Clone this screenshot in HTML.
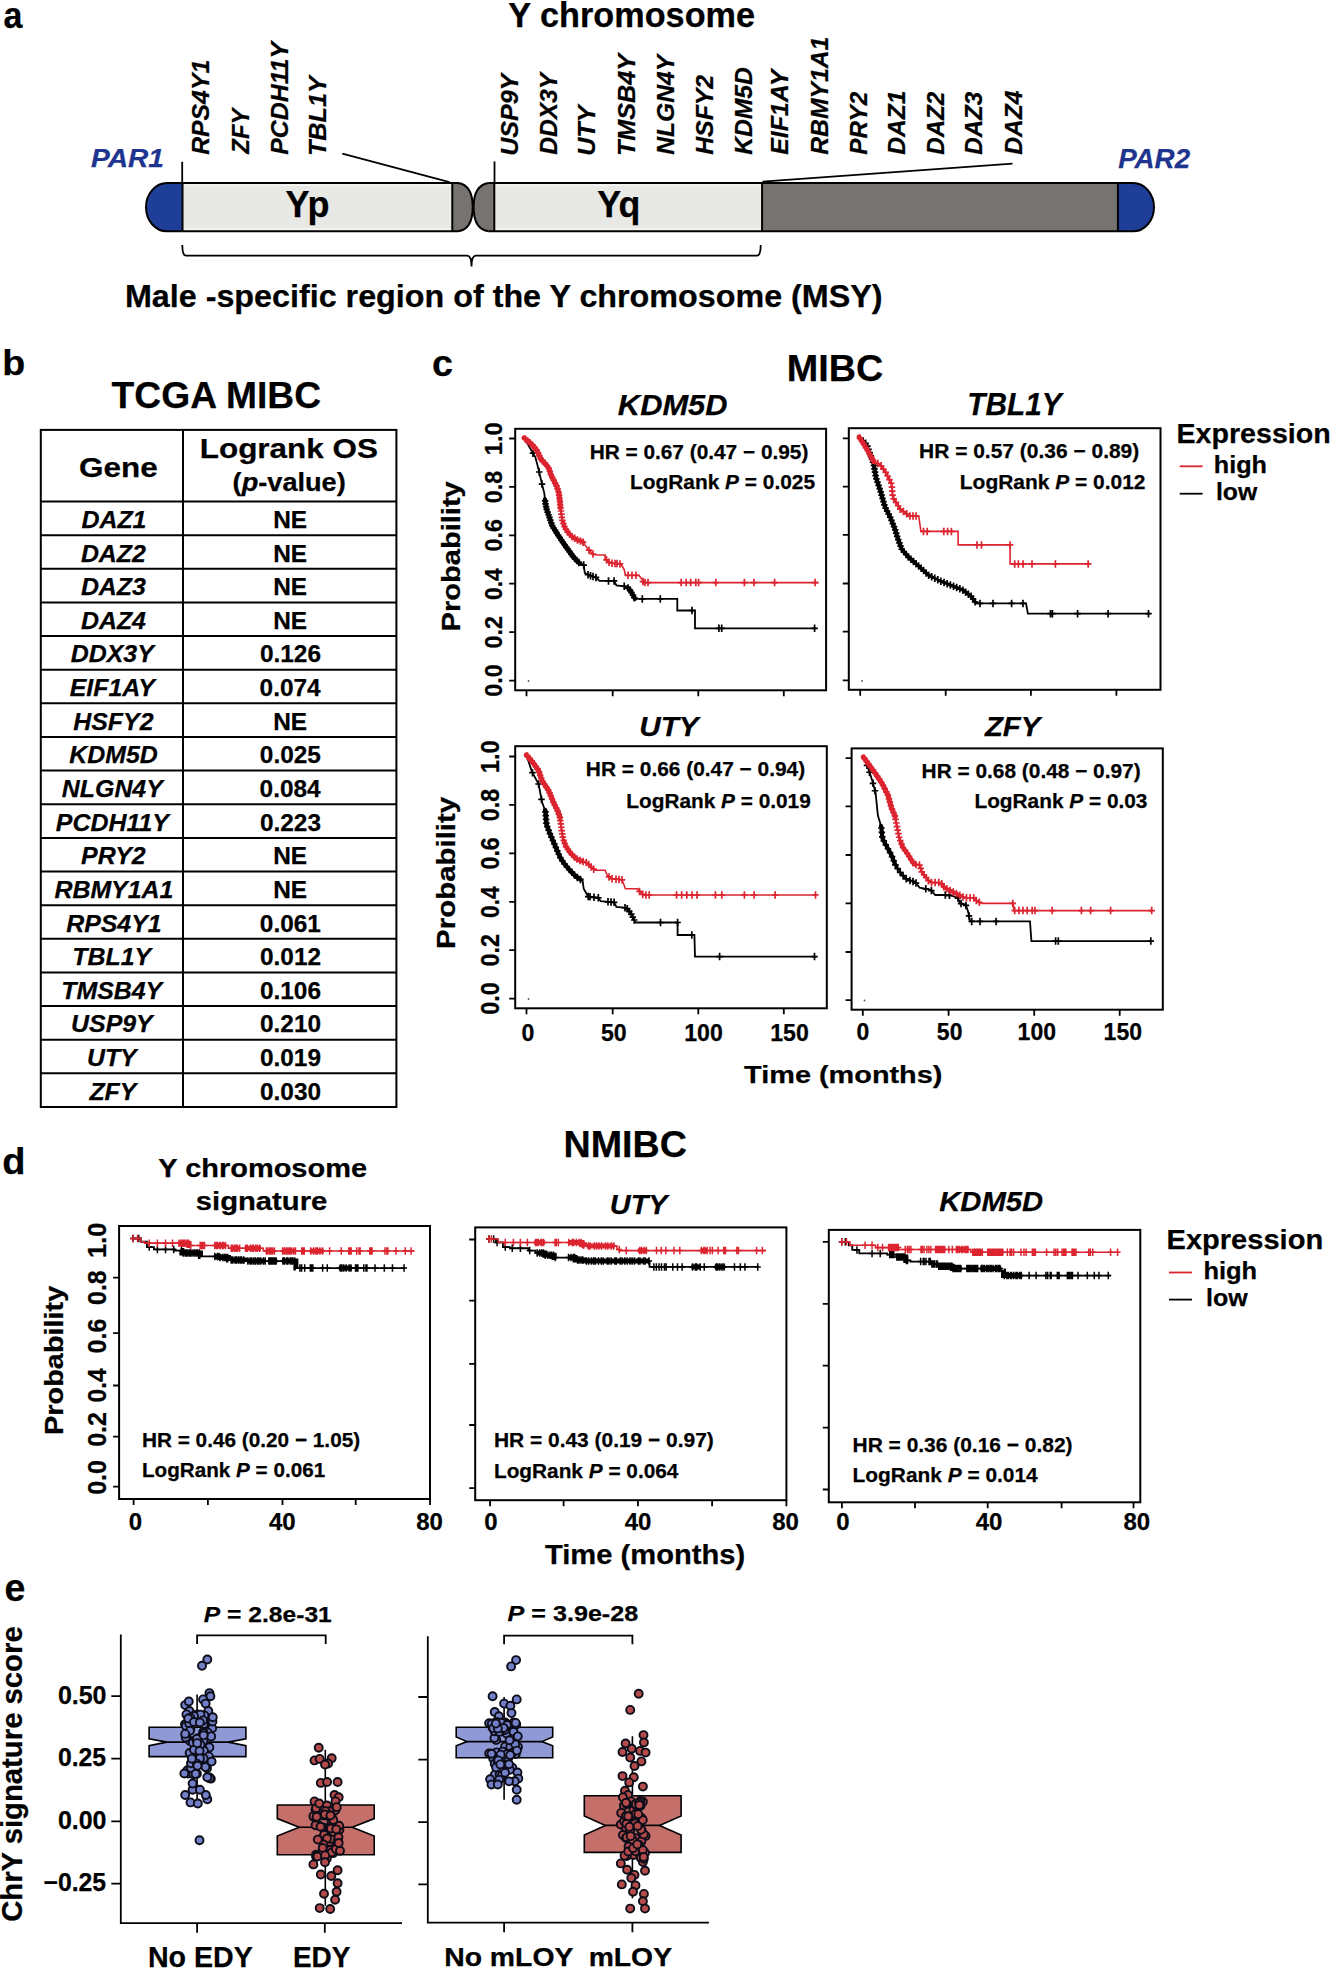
<!DOCTYPE html>
<html><head><meta charset="utf-8"><style>
html,body{margin:0;padding:0;background:#fff;}
body{width:1332px;height:1970px;overflow:hidden;}
svg{display:block;}
text{font-family:"Liberation Sans",sans-serif;}
</style></head><body>
<svg width="1332" height="1970" viewBox="0 0 1332 1970">
<rect x="0" y="0" width="1332" height="1970" fill="#fff"/>
<text x="3.48" y="28.00" font-size="36.85" font-weight="bold" fill="#000" stroke="#000" stroke-width="0.25" textLength="18.92" lengthAdjust="spacingAndGlyphs" xml:space="preserve"><tspan>a</tspan></text>
<text x="508.32" y="26.90" font-size="34.34" font-weight="bold" fill="#000" stroke="#000" stroke-width="0.25" textLength="246.72" lengthAdjust="spacingAndGlyphs" xml:space="preserve"><tspan>Y chromosome</tspan></text>
<text transform="translate(208.80 154.80) rotate(-90)" x="0" y="0" font-size="24.29" font-weight="bold" fill="#000" stroke="#000" stroke-width="0.25" textLength="94.97" lengthAdjust="spacingAndGlyphs" xml:space="preserve"><tspan font-style="italic">RPS4Y1</tspan></text>
<text transform="translate(249.00 153.70) rotate(-90)" x="0" y="0" font-size="24.64" font-weight="bold" fill="#000" stroke="#000" stroke-width="0.25" textLength="45.10" lengthAdjust="spacingAndGlyphs" xml:space="preserve"><tspan font-style="italic">ZFY</tspan></text>
<text transform="translate(287.50 154.80) rotate(-90)" x="0" y="0" font-size="24.29" font-weight="bold" fill="#000" stroke="#000" stroke-width="0.25" textLength="112.83" lengthAdjust="spacingAndGlyphs" xml:space="preserve"><tspan font-style="italic">PCDH11Y</tspan></text>
<text transform="translate(326.00 156.06) rotate(-90)" x="0" y="0" font-size="24.64" font-weight="bold" fill="#000" stroke="#000" stroke-width="0.25" textLength="79.83" lengthAdjust="spacingAndGlyphs" xml:space="preserve"><tspan font-style="italic">TBL1Y</tspan></text>
<text transform="translate(518.40 155.80) rotate(-90)" x="0" y="0" font-size="24.29" font-weight="bold" fill="#000" stroke="#000" stroke-width="0.25" textLength="82.04" lengthAdjust="spacingAndGlyphs" xml:space="preserve"><tspan font-style="italic">USP9Y</tspan></text>
<text transform="translate(557.30 154.79) rotate(-90)" x="0" y="0" font-size="24.29" font-weight="bold" fill="#000" stroke="#000" stroke-width="0.25" textLength="81.94" lengthAdjust="spacingAndGlyphs" xml:space="preserve"><tspan font-style="italic">DDX3Y</tspan></text>
<text transform="translate(595.10 155.81) rotate(-90)" x="0" y="0" font-size="24.64" font-weight="bold" fill="#000" stroke="#000" stroke-width="0.25" textLength="50.32" lengthAdjust="spacingAndGlyphs" xml:space="preserve"><tspan font-style="italic">UTY</tspan></text>
<text transform="translate(635.00 156.06) rotate(-90)" x="0" y="0" font-size="24.29" font-weight="bold" fill="#000" stroke="#000" stroke-width="0.25" textLength="102.21" lengthAdjust="spacingAndGlyphs" xml:space="preserve"><tspan font-style="italic">TMSB4Y</tspan></text>
<text transform="translate(674.00 154.79) rotate(-90)" x="0" y="0" font-size="24.29" font-weight="bold" fill="#000" stroke="#000" stroke-width="0.25" textLength="99.88" lengthAdjust="spacingAndGlyphs" xml:space="preserve"><tspan font-style="italic">NLGN4Y</tspan></text>
<text transform="translate(712.80 154.80) rotate(-90)" x="0" y="0" font-size="24.29" font-weight="bold" fill="#000" stroke="#000" stroke-width="0.25" textLength="79.93" lengthAdjust="spacingAndGlyphs" xml:space="preserve"><tspan font-style="italic">HSFY2</tspan></text>
<text transform="translate(751.70 154.79) rotate(-90)" x="0" y="0" font-size="24.64" font-weight="bold" fill="#000" stroke="#000" stroke-width="0.25" textLength="87.63" lengthAdjust="spacingAndGlyphs" xml:space="preserve"><tspan font-style="italic">KDM5D</tspan></text>
<text transform="translate(788.40 154.80) rotate(-90)" x="0" y="0" font-size="24.64" font-weight="bold" fill="#000" stroke="#000" stroke-width="0.25" textLength="85.18" lengthAdjust="spacingAndGlyphs" xml:space="preserve"><tspan font-style="italic">EIF1AY</tspan></text>
<text transform="translate(828.30 154.79) rotate(-90)" x="0" y="0" font-size="24.64" font-weight="bold" fill="#000" stroke="#000" stroke-width="0.25" textLength="118.13" lengthAdjust="spacingAndGlyphs" xml:space="preserve"><tspan font-style="italic">RBMY1A1</tspan></text>
<text transform="translate(867.20 154.79) rotate(-90)" x="0" y="0" font-size="24.29" font-weight="bold" fill="#000" stroke="#000" stroke-width="0.25" textLength="63.01" lengthAdjust="spacingAndGlyphs" xml:space="preserve"><tspan font-style="italic">PRY2</tspan></text>
<text transform="translate(905.00 154.79) rotate(-90)" x="0" y="0" font-size="24.64" font-weight="bold" fill="#000" stroke="#000" stroke-width="0.25" textLength="64.18" lengthAdjust="spacingAndGlyphs" xml:space="preserve"><tspan font-style="italic">DAZ1</tspan></text>
<text transform="translate(944.00 154.78) rotate(-90)" x="0" y="0" font-size="24.29" font-weight="bold" fill="#000" stroke="#000" stroke-width="0.25" textLength="63.06" lengthAdjust="spacingAndGlyphs" xml:space="preserve"><tspan font-style="italic">DAZ2</tspan></text>
<text transform="translate(981.80 154.78) rotate(-90)" x="0" y="0" font-size="24.29" font-weight="bold" fill="#000" stroke="#000" stroke-width="0.25" textLength="63.06" lengthAdjust="spacingAndGlyphs" xml:space="preserve"><tspan font-style="italic">DAZ3</tspan></text>
<text transform="translate(1021.70 154.79) rotate(-90)" x="0" y="0" font-size="24.64" font-weight="bold" fill="#000" stroke="#000" stroke-width="0.25" textLength="64.19" lengthAdjust="spacingAndGlyphs" xml:space="preserve"><tspan font-style="italic">DAZ4</tspan></text>
<text x="91.04" y="166.70" font-size="26.23" font-weight="bold" fill="#1E348E" stroke="#1E348E" stroke-width="0.25" textLength="72.80" lengthAdjust="spacingAndGlyphs" xml:space="preserve"><tspan font-style="italic">PAR1</tspan></text>
<text x="1118.15" y="167.70" font-size="27.71" font-weight="bold" fill="#1E348E" stroke="#1E348E" stroke-width="0.25" textLength="71.93" lengthAdjust="spacingAndGlyphs" xml:space="preserve"><tspan font-style="italic">PAR2</tspan></text>
<path d="M182.5,183.0 L167,183.0 A21,24.15 0 0 0 167,231.3 L182.5,231.3 Z" fill="#1F3E98" stroke="#000" stroke-width="0.00" />
<rect x="182.5" y="183.0" width="269.8" height="48.3" fill="#E8E8E5"/>
<path d="M452.3,183.0 L458,183.0 Q472.7,185.0 472.7,207.2 Q472.7,229.3 458,231.3 L452.3,231.3 Z" fill="#777371" stroke="#000" stroke-width="0.00" />
<path d="M494.3,183.0 L488.8,183.0 Q473.6,185.0 473.6,207.2 Q473.6,229.3 488.8,231.3 L494.3,231.3 Z" fill="#777371" stroke="#000" stroke-width="0.00" />
<rect x="494.3" y="183.0" width="267.8" height="48.3" fill="#E8E8E5"/>
<rect x="762.1" y="183.0" width="355.8" height="48.3" fill="#777371"/>
<path d="M1117.9,183.0 L1133,183.0 A21,24.15 0 0 1 1133,231.3 L1117.9,231.3 Z" fill="#1F3E98" stroke="#000" stroke-width="0.00" />
<line x1="183.50" y1="185.20" x2="451.50" y2="185.20" stroke="#F8F8F6" stroke-width="1.30" />
<line x1="183.50" y1="229.10" x2="451.50" y2="229.10" stroke="#F8F8F6" stroke-width="1.30" />
<line x1="495.20" y1="185.20" x2="761.20" y2="185.20" stroke="#F8F8F6" stroke-width="1.30" />
<line x1="495.20" y1="229.10" x2="761.20" y2="229.10" stroke="#F8F8F6" stroke-width="1.30" />
<path d="M182.5,183.0 L167,183.0 A21,24.15 0 0 0 167,231.3 L182.5,231.3" fill="none" stroke="#000" stroke-width="2.00" />
<line x1="182.50" y1="183.00" x2="458.00" y2="183.00" stroke="#000" stroke-width="2.00" />
<line x1="182.50" y1="231.30" x2="458.00" y2="231.30" stroke="#000" stroke-width="2.00" />
<path d="M458,183.0 Q472.7,185.0 472.7,207.2 Q472.7,229.3 458,231.3" fill="none" stroke="#000" stroke-width="2.00" />
<path d="M488.8,183.0 Q473.6,185.0 473.6,207.2 Q473.6,229.3 488.8,231.3" fill="none" stroke="#000" stroke-width="2.00" />
<line x1="488.80" y1="183.00" x2="1133.00" y2="183.00" stroke="#000" stroke-width="2.00" />
<line x1="488.80" y1="231.30" x2="1133.00" y2="231.30" stroke="#000" stroke-width="2.00" />
<path d="M1133,183.0 A21,24.15 0 0 1 1133,231.3" fill="none" stroke="#000" stroke-width="2.00" />
<line x1="182.50" y1="183.00" x2="182.50" y2="231.30" stroke="#000" stroke-width="2.00" />
<line x1="452.30" y1="183.00" x2="452.30" y2="231.30" stroke="#000" stroke-width="2.00" />
<line x1="494.30" y1="183.00" x2="494.30" y2="231.30" stroke="#000" stroke-width="2.00" />
<line x1="762.10" y1="183.00" x2="762.10" y2="231.30" stroke="#000" stroke-width="2.00" />
<line x1="1117.90" y1="183.00" x2="1117.90" y2="231.30" stroke="#000" stroke-width="2.00" />
<line x1="182.20" y1="161.80" x2="182.20" y2="183.00" stroke="#000" stroke-width="1.80" />
<line x1="342.30" y1="153.70" x2="449.50" y2="182.20" stroke="#000" stroke-width="1.80" />
<line x1="494.50" y1="161.40" x2="494.50" y2="183.00" stroke="#000" stroke-width="1.80" />
<line x1="1012.50" y1="163.60" x2="762.50" y2="181.60" stroke="#000" stroke-width="1.80" />
<path d="M182.3,245 Q182.3,255.7 186,255.7 L467,255.7 Q471.5,255.7 471.5,266.5 Q471.5,255.7 476,255.7 L757,255.7 Q760.7,255.7 760.7,245" fill="none" stroke="#000" stroke-width="1.80" />
<text x="124.90" y="306.60" font-size="31.03" font-weight="bold" fill="#000" stroke="#000" stroke-width="0.25" textLength="757.66" lengthAdjust="spacingAndGlyphs" xml:space="preserve"><tspan>Male -specific region of the Y chromosome (MSY)</tspan></text>
<text x="2.25" y="375.30" font-size="35.59" font-weight="bold" fill="#000" stroke="#000" stroke-width="0.25" textLength="22.98" lengthAdjust="spacingAndGlyphs" xml:space="preserve"><tspan>b</tspan></text>
<text x="111.63" y="407.80" font-size="36.00" font-weight="bold" fill="#000" stroke="#000" stroke-width="0.25" textLength="209.45" lengthAdjust="spacingAndGlyphs" xml:space="preserve"><tspan>TCGA MIBC</tspan></text>
<rect x="40.80" y="429.90" width="355.60" height="677.10" fill="none" stroke="#000" stroke-width="2"/>
<line x1="183.00" y1="429.90" x2="183.00" y2="1107.00" stroke="#000" stroke-width="2.00" />
<line x1="40.80" y1="501.50" x2="396.40" y2="501.50" stroke="#000" stroke-width="2.00" />
<line x1="40.80" y1="535.14" x2="396.40" y2="535.14" stroke="#000" stroke-width="2.00" />
<line x1="40.80" y1="568.78" x2="396.40" y2="568.78" stroke="#000" stroke-width="2.00" />
<line x1="40.80" y1="602.42" x2="396.40" y2="602.42" stroke="#000" stroke-width="2.00" />
<line x1="40.80" y1="636.06" x2="396.40" y2="636.06" stroke="#000" stroke-width="2.00" />
<line x1="40.80" y1="669.69" x2="396.40" y2="669.69" stroke="#000" stroke-width="2.00" />
<line x1="40.80" y1="703.33" x2="396.40" y2="703.33" stroke="#000" stroke-width="2.00" />
<line x1="40.80" y1="736.97" x2="396.40" y2="736.97" stroke="#000" stroke-width="2.00" />
<line x1="40.80" y1="770.61" x2="396.40" y2="770.61" stroke="#000" stroke-width="2.00" />
<line x1="40.80" y1="804.25" x2="396.40" y2="804.25" stroke="#000" stroke-width="2.00" />
<line x1="40.80" y1="837.89" x2="396.40" y2="837.89" stroke="#000" stroke-width="2.00" />
<line x1="40.80" y1="871.53" x2="396.40" y2="871.53" stroke="#000" stroke-width="2.00" />
<line x1="40.80" y1="905.17" x2="396.40" y2="905.17" stroke="#000" stroke-width="2.00" />
<line x1="40.80" y1="938.81" x2="396.40" y2="938.81" stroke="#000" stroke-width="2.00" />
<line x1="40.80" y1="972.44" x2="396.40" y2="972.44" stroke="#000" stroke-width="2.00" />
<line x1="40.80" y1="1006.08" x2="396.40" y2="1006.08" stroke="#000" stroke-width="2.00" />
<line x1="40.80" y1="1039.72" x2="396.40" y2="1039.72" stroke="#000" stroke-width="2.00" />
<line x1="40.80" y1="1073.36" x2="396.40" y2="1073.36" stroke="#000" stroke-width="2.00" />
<text x="79.14" y="476.50" font-size="28.29" font-weight="bold" fill="#000" stroke="#000" stroke-width="0.25" textLength="78.69" lengthAdjust="spacingAndGlyphs" xml:space="preserve"><tspan>Gene</tspan></text>
<text x="199.76" y="458.30" font-size="28.28" font-weight="bold" fill="#000" stroke="#000" stroke-width="0.25" textLength="178.23" lengthAdjust="spacingAndGlyphs" xml:space="preserve"><tspan>Logrank OS</tspan></text>
<text x="232.64" y="490.70" font-size="25.79" font-weight="bold" fill="#000" stroke="#000" stroke-width="0.25" textLength="113.14" lengthAdjust="spacingAndGlyphs" xml:space="preserve"><tspan>(</tspan><tspan font-style="italic">p</tspan><tspan>-value)</tspan></text>
<text x="81.46" y="527.90" font-size="24.40" font-weight="bold" fill="#000" stroke="#000" stroke-width="0.25" textLength="64.99" lengthAdjust="spacingAndGlyphs" xml:space="preserve"><tspan font-style="italic">DAZ1</tspan></text>
<text x="273.24" y="527.90" font-size="24.40" font-weight="bold" fill="#000" stroke="#000" stroke-width="0.25" textLength="33.90" lengthAdjust="spacingAndGlyphs" xml:space="preserve"><tspan>NE</tspan></text>
<text x="80.90" y="561.54" font-size="24.40" font-weight="bold" fill="#000" stroke="#000" stroke-width="0.25" textLength="64.99" lengthAdjust="spacingAndGlyphs" xml:space="preserve"><tspan font-style="italic">DAZ2</tspan></text>
<text x="273.24" y="561.54" font-size="24.40" font-weight="bold" fill="#000" stroke="#000" stroke-width="0.25" textLength="33.90" lengthAdjust="spacingAndGlyphs" xml:space="preserve"><tspan>NE</tspan></text>
<text x="80.90" y="595.18" font-size="24.40" font-weight="bold" fill="#000" stroke="#000" stroke-width="0.25" textLength="64.99" lengthAdjust="spacingAndGlyphs" xml:space="preserve"><tspan font-style="italic">DAZ3</tspan></text>
<text x="273.24" y="595.18" font-size="24.40" font-weight="bold" fill="#000" stroke="#000" stroke-width="0.25" textLength="33.90" lengthAdjust="spacingAndGlyphs" xml:space="preserve"><tspan>NE</tspan></text>
<text x="80.96" y="628.82" font-size="24.40" font-weight="bold" fill="#000" stroke="#000" stroke-width="0.25" textLength="64.99" lengthAdjust="spacingAndGlyphs" xml:space="preserve"><tspan font-style="italic">DAZ4</tspan></text>
<text x="273.24" y="628.82" font-size="24.40" font-weight="bold" fill="#000" stroke="#000" stroke-width="0.25" textLength="33.90" lengthAdjust="spacingAndGlyphs" xml:space="preserve"><tspan>NE</tspan></text>
<text x="70.82" y="662.46" font-size="24.40" font-weight="bold" fill="#000" stroke="#000" stroke-width="0.25" textLength="82.99" lengthAdjust="spacingAndGlyphs" xml:space="preserve"><tspan font-style="italic">DDX3Y</tspan></text>
<text x="259.94" y="662.46" font-size="24.40" font-weight="bold" fill="#000" stroke="#000" stroke-width="0.25" textLength="61.06" lengthAdjust="spacingAndGlyphs" xml:space="preserve"><tspan>0.126</tspan></text>
<text x="69.70" y="696.09" font-size="24.40" font-weight="bold" fill="#000" stroke="#000" stroke-width="0.25" textLength="85.29" lengthAdjust="spacingAndGlyphs" xml:space="preserve"><tspan font-style="italic">EIF1AY</tspan></text>
<text x="259.57" y="696.09" font-size="24.40" font-weight="bold" fill="#000" stroke="#000" stroke-width="0.25" textLength="61.06" lengthAdjust="spacingAndGlyphs" xml:space="preserve"><tspan>0.074</tspan></text>
<text x="73.31" y="729.73" font-size="24.40" font-weight="bold" fill="#000" stroke="#000" stroke-width="0.25" textLength="80.22" lengthAdjust="spacingAndGlyphs" xml:space="preserve"><tspan font-style="italic">HSFY2</tspan></text>
<text x="273.24" y="729.73" font-size="24.40" font-weight="bold" fill="#000" stroke="#000" stroke-width="0.25" textLength="33.90" lengthAdjust="spacingAndGlyphs" xml:space="preserve"><tspan>NE</tspan></text>
<text x="69.32" y="763.37" font-size="24.40" font-weight="bold" fill="#000" stroke="#000" stroke-width="0.25" textLength="88.50" lengthAdjust="spacingAndGlyphs" xml:space="preserve"><tspan font-style="italic">KDM5D</tspan></text>
<text x="259.82" y="763.37" font-size="24.40" font-weight="bold" fill="#000" stroke="#000" stroke-width="0.25" textLength="61.06" lengthAdjust="spacingAndGlyphs" xml:space="preserve"><tspan>0.025</tspan></text>
<text x="61.86" y="797.01" font-size="24.40" font-weight="bold" fill="#000" stroke="#000" stroke-width="0.25" textLength="100.95" lengthAdjust="spacingAndGlyphs" xml:space="preserve"><tspan font-style="italic">NLGN4Y</tspan></text>
<text x="259.57" y="797.01" font-size="24.40" font-weight="bold" fill="#000" stroke="#000" stroke-width="0.25" textLength="61.06" lengthAdjust="spacingAndGlyphs" xml:space="preserve"><tspan>0.084</tspan></text>
<text x="55.88" y="830.65" font-size="24.40" font-weight="bold" fill="#000" stroke="#000" stroke-width="0.25" textLength="112.96" lengthAdjust="spacingAndGlyphs" xml:space="preserve"><tspan font-style="italic">PCDH11Y</tspan></text>
<text x="259.94" y="830.65" font-size="24.40" font-weight="bold" fill="#000" stroke="#000" stroke-width="0.25" textLength="61.06" lengthAdjust="spacingAndGlyphs" xml:space="preserve"><tspan>0.223</tspan></text>
<text x="81.08" y="864.29" font-size="24.40" font-weight="bold" fill="#000" stroke="#000" stroke-width="0.25" textLength="64.57" lengthAdjust="spacingAndGlyphs" xml:space="preserve"><tspan font-style="italic">PRY2</tspan></text>
<text x="273.24" y="864.29" font-size="24.40" font-weight="bold" fill="#000" stroke="#000" stroke-width="0.25" textLength="33.90" lengthAdjust="spacingAndGlyphs" xml:space="preserve"><tspan>NE</tspan></text>
<text x="54.45" y="897.93" font-size="24.40" font-weight="bold" fill="#000" stroke="#000" stroke-width="0.25" textLength="118.94" lengthAdjust="spacingAndGlyphs" xml:space="preserve"><tspan font-style="italic">RBMY1A1</tspan></text>
<text x="273.24" y="897.93" font-size="24.40" font-weight="bold" fill="#000" stroke="#000" stroke-width="0.25" textLength="33.90" lengthAdjust="spacingAndGlyphs" xml:space="preserve"><tspan>NE</tspan></text>
<text x="66.21" y="931.57" font-size="24.40" font-weight="bold" fill="#000" stroke="#000" stroke-width="0.25" textLength="95.46" lengthAdjust="spacingAndGlyphs" xml:space="preserve"><tspan font-style="italic">RPS4Y1</tspan></text>
<text x="259.82" y="931.57" font-size="24.40" font-weight="bold" fill="#000" stroke="#000" stroke-width="0.25" textLength="61.06" lengthAdjust="spacingAndGlyphs" xml:space="preserve"><tspan>0.061</tspan></text>
<text x="72.31" y="965.21" font-size="24.40" font-weight="bold" fill="#000" stroke="#000" stroke-width="0.25" textLength="78.82" lengthAdjust="spacingAndGlyphs" xml:space="preserve"><tspan font-style="italic">TBL1Y</tspan></text>
<text x="260.00" y="965.21" font-size="24.40" font-weight="bold" fill="#000" stroke="#000" stroke-width="0.25" textLength="61.06" lengthAdjust="spacingAndGlyphs" xml:space="preserve"><tspan>0.012</tspan></text>
<text x="61.24" y="998.84" font-size="24.40" font-weight="bold" fill="#000" stroke="#000" stroke-width="0.25" textLength="100.95" lengthAdjust="spacingAndGlyphs" xml:space="preserve"><tspan font-style="italic">TMSB4Y</tspan></text>
<text x="259.94" y="998.84" font-size="24.40" font-weight="bold" fill="#000" stroke="#000" stroke-width="0.25" textLength="61.06" lengthAdjust="spacingAndGlyphs" xml:space="preserve"><tspan>0.106</tspan></text>
<text x="71.07" y="1032.48" font-size="24.40" font-weight="bold" fill="#000" stroke="#000" stroke-width="0.25" textLength="81.62" lengthAdjust="spacingAndGlyphs" xml:space="preserve"><tspan font-style="italic">USP9Y</tspan></text>
<text x="260.00" y="1032.48" font-size="24.40" font-weight="bold" fill="#000" stroke="#000" stroke-width="0.25" textLength="61.06" lengthAdjust="spacingAndGlyphs" xml:space="preserve"><tspan>0.210</tspan></text>
<text x="86.93" y="1066.12" font-size="24.40" font-weight="bold" fill="#000" stroke="#000" stroke-width="0.25" textLength="49.78" lengthAdjust="spacingAndGlyphs" xml:space="preserve"><tspan font-style="italic">UTY</tspan></text>
<text x="259.94" y="1066.12" font-size="24.40" font-weight="bold" fill="#000" stroke="#000" stroke-width="0.25" textLength="61.06" lengthAdjust="spacingAndGlyphs" xml:space="preserve"><tspan>0.019</tspan></text>
<text x="89.42" y="1099.76" font-size="24.40" font-weight="bold" fill="#000" stroke="#000" stroke-width="0.25" textLength="47.01" lengthAdjust="spacingAndGlyphs" xml:space="preserve"><tspan font-style="italic">ZFY</tspan></text>
<text x="260.00" y="1099.76" font-size="24.40" font-weight="bold" fill="#000" stroke="#000" stroke-width="0.25" textLength="61.06" lengthAdjust="spacingAndGlyphs" xml:space="preserve"><tspan>0.030</tspan></text>
<text x="431.99" y="375.50" font-size="37.04" font-weight="bold" fill="#000" stroke="#000" stroke-width="0.25" textLength="20.99" lengthAdjust="spacingAndGlyphs" xml:space="preserve"><tspan>c</tspan></text>
<text x="786.74" y="380.80" font-size="36.86" font-weight="bold" fill="#000" stroke="#000" stroke-width="0.25" textLength="96.61" lengthAdjust="spacingAndGlyphs" xml:space="preserve"><tspan>MIBC</tspan></text>
<text x="617.88" y="414.90" font-size="28.99" font-weight="bold" fill="#000" stroke="#000" stroke-width="0.25" textLength="109.61" lengthAdjust="spacingAndGlyphs" xml:space="preserve"><tspan font-style="italic">KDM5D</tspan></text>
<text x="967.32" y="414.70" font-size="31.16" font-weight="bold" fill="#000" stroke="#000" stroke-width="0.25" textLength="94.21" lengthAdjust="spacingAndGlyphs" xml:space="preserve"><tspan font-style="italic">TBL1Y</tspan></text>
<text x="639.32" y="735.50" font-size="28.12" font-weight="bold" fill="#000" stroke="#000" stroke-width="0.25" textLength="59.36" lengthAdjust="spacingAndGlyphs" xml:space="preserve"><tspan font-style="italic">UTY</tspan></text>
<text x="984.93" y="736.10" font-size="28.26" font-weight="bold" fill="#000" stroke="#000" stroke-width="0.25" textLength="55.47" lengthAdjust="spacingAndGlyphs" xml:space="preserve"><tspan font-style="italic">ZFY</tspan></text>
<rect x="515.20" y="428.80" width="310.90" height="261.50" fill="none" stroke="#000" stroke-width="2.00"/>
<path d="M515.20,438.50H509.20 M515.20,486.90H509.20 M515.20,535.30H509.20 M515.20,583.70H509.20 M515.20,632.20H509.20 M515.20,680.60H509.20 M526.50,690.30V696.30 M612.70,690.30V696.30 M698.30,690.30V696.30 M783.80,690.30V696.30" stroke="#000" stroke-width="1.80" fill="none"/>
<text transform="translate(501.80 455.22) rotate(-90)" x="0" y="0" font-size="24.43" font-weight="bold" fill="#000" stroke="#000" stroke-width="0.25" textLength="32.98" lengthAdjust="spacingAndGlyphs" xml:space="preserve"><tspan>1.0</tspan></text>
<text transform="translate(501.80 503.13) rotate(-90)" x="0" y="0" font-size="24.43" font-weight="bold" fill="#000" stroke="#000" stroke-width="0.25" textLength="32.23" lengthAdjust="spacingAndGlyphs" xml:space="preserve"><tspan>0.8</tspan></text>
<text transform="translate(501.80 551.53) rotate(-90)" x="0" y="0" font-size="24.43" font-weight="bold" fill="#000" stroke="#000" stroke-width="0.25" textLength="32.35" lengthAdjust="spacingAndGlyphs" xml:space="preserve"><tspan>0.6</tspan></text>
<text transform="translate(501.80 599.91) rotate(-90)" x="0" y="0" font-size="24.43" font-weight="bold" fill="#000" stroke="#000" stroke-width="0.25" textLength="31.63" lengthAdjust="spacingAndGlyphs" xml:space="preserve"><tspan>0.4</tspan></text>
<text transform="translate(501.80 648.43) rotate(-90)" x="0" y="0" font-size="24.43" font-weight="bold" fill="#000" stroke="#000" stroke-width="0.25" textLength="32.47" lengthAdjust="spacingAndGlyphs" xml:space="preserve"><tspan>0.2</tspan></text>
<text transform="translate(501.80 696.83) rotate(-90)" x="0" y="0" font-size="24.43" font-weight="bold" fill="#000" stroke="#000" stroke-width="0.25" textLength="32.47" lengthAdjust="spacingAndGlyphs" xml:space="preserve"><tspan>0.0</tspan></text>
<text transform="translate(459.93 631.39) rotate(-90)" x="0" y="0" font-size="26.52" font-weight="bold" fill="#000" stroke="#000" stroke-width="0.25" textLength="150.11" lengthAdjust="spacingAndGlyphs" xml:space="preserve"><tspan>Probability</tspan></text>
<text x="589.65" y="458.80" font-size="20.41" font-weight="bold" fill="#000" stroke="#000" stroke-width="0.25" textLength="218.72" lengthAdjust="spacingAndGlyphs" xml:space="preserve"><tspan>HR = 0.67 (0.47 − 0.95)</tspan></text>
<text x="630.04" y="489.10" font-size="20.41" font-weight="bold" fill="#000" stroke="#000" stroke-width="0.25" textLength="184.98" lengthAdjust="spacingAndGlyphs" xml:space="preserve"><tspan>LogRank </tspan><tspan font-style="italic">P</tspan><tspan> = 0.025</tspan></text>
<polyline points="524.00,437.90 531.90,451.40 535.30,457.00 538.60,469.40 542.00,484.10 544.30,493.10 545.40,503.20 546.50,508.80 548.80,515.60 552.20,525.70 557.80,534.70 562.30,541.50 567.90,549.40 573.60,557.30 579.20,562.90 583.70,565.10 584.80,573.00 589.30,575.30 596.10,577.50 599.50,580.90 614.10,580.90 616.40,585.40 626.50,586.50 629.90,589.90 633.20,595.50 634.90,598.90 677.30,598.90 677.30,610.50 695.00,610.50 695.00,628.30 815.50,628.30" fill="none" stroke="#000" stroke-width="1.80" stroke-linejoin="miter" />
<polyline points="545.00,499.53 545.40,503.20 546.50,508.80 548.80,515.60 552.20,525.70 557.80,534.70 562.30,541.50 567.90,549.40 573.60,557.30 579.20,562.90 580.00,563.29" fill="none" stroke="#000" stroke-width="4.50" stroke-linejoin="miter" stroke-linecap="round" stroke-linejoin="round"/>
<polyline points="627.50,587.50 629.90,589.90 633.20,595.50 634.90,598.90 635.00,598.90" fill="none" stroke="#000" stroke-width="4.00" stroke-linejoin="miter" stroke-linecap="round" stroke-linejoin="round"/>
<path d="M533.00,449.46v7.50 M529.75,453.21h6.50 M539.20,468.24v7.50 M535.95,471.99h6.50 M542.00,480.35v7.50 M538.75,484.10h6.50 M583.70,561.35v7.50 M580.45,565.10h6.50 M588.00,570.89v7.50 M584.75,574.64h6.50 M590.50,571.94v7.50 M587.25,575.69h6.50 M593.00,572.75v7.50 M589.75,576.50h6.50 M596.00,573.72v7.50 M592.75,577.47h6.50 M608.50,577.15v7.50 M605.25,580.90h6.50 M614.10,577.15v7.50 M610.85,580.90h6.50 M624.20,582.50v7.50 M620.95,586.25h6.50 M642.30,595.15v7.50 M639.05,598.90h6.50 M660.30,595.15v7.50 M657.05,598.90h6.50 M692.00,606.75v7.50 M688.75,610.50h6.50 M718.90,624.55v7.50 M715.65,628.30h6.50 M721.70,624.55v7.50 M718.45,628.30h6.50 M814.60,624.55v7.50 M811.35,628.30h6.50 M545.15,497.20v7.50 M541.90,500.95h6.50 M545.51,500.03v7.50 M542.26,503.78h6.50 M546.06,502.83v7.50 M542.81,506.58h6.50 M546.69,505.61v7.50 M543.44,509.36h6.50 M547.60,508.31v7.50 M544.35,512.06h6.50 M548.52,511.02v7.50 M545.27,514.77h6.50 M549.43,513.72v7.50 M546.18,517.47h6.50 M550.34,516.43v7.50 M547.09,520.18h6.50 M551.25,519.13v7.50 M548.00,522.88h6.50 M552.16,521.84v7.50 M548.91,525.59h6.50 M553.65,524.28v7.50 M550.40,528.03h6.50 M555.16,526.70v7.50 M551.91,530.45h6.50 M556.66,529.12v7.50 M553.41,532.87h6.50 M558.19,531.54v7.50 M554.94,535.29h6.50 M559.76,533.92v7.50 M556.51,537.67h6.50 M561.34,536.30v7.50 M558.09,540.05h6.50 M562.94,538.66v7.50 M559.69,542.41h6.50 M564.60,540.99v7.50 M561.35,544.74h6.50 M566.25,543.32v7.50 M563.00,547.07h6.50 M567.90,545.65v7.50 M564.65,549.40h6.50 M569.57,547.96v7.50 M566.32,551.71h6.50 M571.24,550.28v7.50 M567.99,554.03h6.50 M572.91,552.59v7.50 M569.66,556.34h6.50 M574.78,554.73v7.50 M571.53,558.48h6.50 M576.80,556.75v7.50 M573.55,560.50h6.50 M578.82,558.77v7.50 M575.57,562.52h6.50 M628.03,584.28v7.50 M624.78,588.03h6.50 M630.03,586.36v7.50 M626.78,590.11h6.50 M631.50,588.86v7.50 M628.25,592.61h6.50 M632.97,591.36v7.50 M629.72,595.11h6.50 M634.30,593.94v7.50 M631.05,597.69h6.50" stroke="#000" stroke-width="1.70" fill="none"/>
<polyline points="524.00,437.90 529.60,442.40 534.10,446.90 537.50,451.40 540.90,459.30 545.40,463.80 548.80,468.30 551.00,475.00 553.90,480.70 556.70,486.30 558.90,493.10 560.00,502.10 560.60,508.80 562.30,520.10 564.50,526.80 567.90,532.50 572.40,537.00 578.10,540.40 582.60,541.50 584.80,544.90 588.20,549.40 592.70,553.90 596.10,555.00 605.10,555.00 605.10,558.40 609.60,562.90 620.90,564.00 624.20,569.60 625.40,575.30 638.90,575.30 642.30,579.80 643.40,582.60 818.50,582.60" fill="none" stroke="#DC2430" stroke-width="1.60" stroke-linejoin="miter" />
<polyline points="524.00,437.90 529.60,442.40 534.10,446.90 537.50,451.40 540.90,459.30 545.00,463.40" fill="none" stroke="#DC2430" stroke-width="5.00" stroke-linejoin="miter" stroke-linecap="round" stroke-linejoin="round"/>
<polyline points="546.00,464.59 548.80,468.30 551.00,475.00 553.90,480.70 556.70,486.30 558.90,493.10 560.00,502.10 560.50,507.68" fill="none" stroke="#DC2430" stroke-width="5.00" stroke-linejoin="miter" stroke-linecap="round" stroke-linejoin="round"/>
<polyline points="563.00,522.23 564.50,526.80 567.90,532.50 572.40,537.00 578.10,540.40 582.60,541.50 583.00,542.12" fill="none" stroke="#DC2430" stroke-width="4.20" stroke-linejoin="miter" stroke-linecap="round" stroke-linejoin="round"/>
<path d="M589.00,546.45v7.50 M585.75,550.20h6.50 M593.00,550.25v7.50 M589.75,554.00h6.50 M606.50,556.05v7.50 M603.25,559.80h6.50 M609.00,558.55v7.50 M605.75,562.30h6.50 M612.00,559.38v7.50 M608.75,563.13h6.50 M615.00,559.68v7.50 M611.75,563.43h6.50 M617.00,559.87v7.50 M613.75,563.62h6.50 M620.00,560.16v7.50 M616.75,563.91h6.50 M628.00,571.55v7.50 M624.75,575.30h6.50 M632.00,571.55v7.50 M628.75,575.30h6.50 M636.00,571.55v7.50 M632.75,575.30h6.50 M643.00,577.83v7.50 M639.75,581.58h6.50 M645.00,578.85v7.50 M641.75,582.60h6.50 M648.00,578.85v7.50 M644.75,582.60h6.50 M681.10,578.85v7.50 M677.85,582.60h6.50 M686.20,578.85v7.50 M682.95,582.60h6.50 M690.70,578.85v7.50 M687.45,582.60h6.50 M695.80,578.85v7.50 M692.55,582.60h6.50 M698.60,578.85v7.50 M695.35,582.60h6.50 M715.80,578.85v7.50 M712.55,582.60h6.50 M744.40,578.85v7.50 M741.15,582.60h6.50 M754.00,578.85v7.50 M750.75,582.60h6.50 M774.60,578.85v7.50 M771.35,582.60h6.50 M815.10,578.85v7.50 M811.85,582.60h6.50 M525.24,435.15v7.50 M521.99,438.90h6.50 M527.73,437.15v7.50 M524.48,440.90h6.50 M530.17,439.22v7.50 M526.92,442.97h6.50 M532.43,441.48v7.50 M529.18,445.23h6.50 M534.60,443.81v7.50 M531.35,447.56h6.50 M536.52,446.36v7.50 M533.27,450.11h6.50 M538.12,449.10v7.50 M534.87,452.85h6.50 M539.39,452.03v7.50 M536.14,455.78h6.50 M540.65,454.96v7.50 M537.40,458.71h6.50 M542.71,457.36v7.50 M539.46,461.11h6.50 M544.97,459.62v7.50 M541.72,463.37h6.50 M546.96,462.11v7.50 M543.71,465.86h6.50 M548.84,464.68v7.50 M545.59,468.43h6.50 M549.84,467.71v7.50 M546.59,471.46h6.50 M550.84,470.75v7.50 M547.59,474.50h6.50 M552.21,473.63v7.50 M548.96,477.38h6.50 M553.66,476.47v7.50 M550.41,480.22h6.50 M555.09,479.33v7.50 M551.84,483.08h6.50 M556.52,482.19v7.50 M553.27,485.94h6.50 M557.56,485.20v7.50 M554.31,488.95h6.50 M558.54,488.24v7.50 M555.29,491.99h6.50 M559.15,491.36v7.50 M555.90,495.11h6.50 M559.53,494.53v7.50 M556.28,498.28h6.50 M559.92,497.70v7.50 M556.67,501.45h6.50 M560.23,500.88v7.50 M556.98,504.63h6.50 M560.51,504.06v7.50 M557.26,507.81h6.50 M560.93,507.23v7.50 M557.68,510.98h6.50 M561.40,510.39v7.50 M558.15,514.14h6.50 M561.88,513.55v7.50 M558.63,517.30h6.50 M562.41,516.69v7.50 M559.16,520.44h6.50 M563.41,519.73v7.50 M560.16,523.48h6.50 M564.41,522.76v7.50 M561.16,526.51h6.50 M565.98,525.53v7.50 M562.73,529.28h6.50 M567.62,528.28v7.50 M564.37,532.03h6.50 M569.77,530.62v7.50 M566.52,534.37h6.50 M572.03,532.88v7.50 M568.78,536.63h6.50 M574.69,534.62v7.50 M571.44,538.37h6.50 M577.43,536.25v7.50 M574.18,540.00h6.50 M580.45,537.22v7.50 M577.20,540.97h6.50 M583.13,538.57v7.50 M579.88,542.32h6.50" stroke="#DC2430" stroke-width="1.70" fill="none"/>
<rect x="848.80" y="428.20" width="311.70" height="261.60" fill="none" stroke="#000" stroke-width="2.00"/>
<path d="M848.80,438.40H842.80 M848.80,486.70H842.80 M848.80,534.90H842.80 M848.80,583.50H842.80 M848.80,631.70H842.80 M848.80,680.40H842.80 M860.20,689.80V695.80 M945.70,689.80V695.80 M1030.90,689.80V695.80 M1116.40,689.80V695.80" stroke="#000" stroke-width="1.80" fill="none"/>
<text x="919.04" y="458.40" font-size="20.41" font-weight="bold" fill="#000" stroke="#000" stroke-width="0.25" textLength="220.24" lengthAdjust="spacingAndGlyphs" xml:space="preserve"><tspan>HR = 0.57 (0.36 − 0.89)</tspan></text>
<text x="959.84" y="489.30" font-size="20.41" font-weight="bold" fill="#000" stroke="#000" stroke-width="0.25" textLength="185.70" lengthAdjust="spacingAndGlyphs" xml:space="preserve"><tspan>LogRank </tspan><tspan font-style="italic">P</tspan><tspan> = 0.012</tspan></text>
<polyline points="859.00,436.80 866.90,444.60 873.60,463.80 875.90,477.30 880.40,490.80 884.90,506.60 890.50,517.80 895.00,529.10 897.30,537.00 901.80,549.40 908.60,557.30 917.60,565.10 928.80,575.30 940.10,580.90 951.40,585.40 962.60,589.90 971.60,596.70 976.10,603.40 1026.00,603.40 1027.90,613.70 1149.60,613.70" fill="none" stroke="#000" stroke-width="1.80" stroke-linejoin="miter" />
<polyline points="870.00,453.48 873.60,463.80 875.90,477.30 880.40,490.80 884.90,506.60 890.50,517.80 895.00,529.10 897.30,537.00 901.00,547.20" fill="none" stroke="#000" stroke-width="4.20" stroke-linejoin="miter" stroke-linecap="round" stroke-linejoin="round"/>
<polyline points="902.00,549.63 908.60,557.30 915.00,562.85" fill="none" stroke="#000" stroke-width="4.00" stroke-linejoin="miter" stroke-linecap="round" stroke-linejoin="round"/>
<polyline points="918.00,565.46 928.80,575.30 932.00,576.89" fill="none" stroke="#000" stroke-width="3.20" stroke-linejoin="miter" stroke-linecap="round" stroke-linejoin="round"/>
<polyline points="940.00,580.85 940.10,580.90 951.40,585.40 962.60,589.90 971.60,596.70 975.00,601.76" fill="none" stroke="#000" stroke-width="3.20" stroke-linejoin="miter" stroke-linecap="round" stroke-linejoin="round"/>
<path d="M980.00,599.65v7.50 M976.75,603.40h6.50 M993.00,599.65v7.50 M989.75,603.40h6.50 M1011.60,599.65v7.50 M1008.35,603.40h6.50 M1023.00,599.65v7.50 M1019.75,603.40h6.50 M1050.50,609.95v7.50 M1047.25,613.70h6.50 M1052.40,609.95v7.50 M1049.15,613.70h6.50 M1077.60,609.95v7.50 M1074.35,613.70h6.50 M1108.10,609.95v7.50 M1104.85,613.70h6.50 M1148.50,609.95v7.50 M1145.25,613.70h6.50 M863.21,437.21v7.50 M859.96,440.96h6.50 M865.64,439.60v7.50 M862.39,443.35h6.50 M867.44,442.39v7.50 M864.19,446.14h6.50 M868.56,445.60v7.50 M865.31,449.35h6.50 M869.68,448.82v7.50 M866.43,452.57h6.50 M870.80,452.04v7.50 M867.55,455.79h6.50 M871.93,455.25v7.50 M868.68,459.00h6.50 M873.05,458.47v7.50 M869.80,462.22h6.50 M873.89,461.76v7.50 M870.64,465.51h6.50 M874.46,465.11v7.50 M871.21,468.86h6.50 M875.03,468.47v7.50 M871.78,472.22h6.50 M875.61,471.83v7.50 M872.36,475.58h6.50 M876.42,475.12v7.50 M873.17,478.87h6.50 M877.50,478.36v7.50 M874.25,482.11h6.50 M878.58,481.59v7.50 M875.33,485.34h6.50 M879.66,484.82v7.50 M876.41,488.57h6.50 M880.69,488.06v7.50 M877.44,491.81h6.50 M881.62,491.34v7.50 M878.37,495.09h6.50 M882.55,494.62v7.50 M879.30,498.37h6.50 M883.49,497.89v7.50 M880.24,501.64h6.50 M884.42,501.17v7.50 M881.17,504.92h6.50 M885.64,504.33v7.50 M882.39,508.08h6.50 M887.16,507.38v7.50 M883.91,511.13h6.50 M888.69,510.42v7.50 M885.44,514.17h6.50 M890.21,513.47v7.50 M886.96,517.22h6.50 M891.52,516.61v7.50 M888.27,520.36h6.50 M892.78,519.78v7.50 M889.53,523.53h6.50 M894.04,522.94v7.50 M890.79,526.69h6.50 M895.23,526.13v7.50 M891.98,529.88h6.50 M896.18,529.40v7.50 M892.93,533.15h6.50 M897.13,532.67v7.50 M893.88,536.42h6.50 M898.26,535.89v7.50 M895.01,539.64h6.50 M899.42,539.09v7.50 M896.17,542.84h6.50 M900.58,542.29v7.50 M897.33,546.04h6.50 M901.74,545.49v7.50 M898.49,549.24h6.50 M903.91,548.10v7.50 M900.66,551.85h6.50 M906.13,550.68v7.50 M902.88,554.43h6.50 M908.36,553.27v7.50 M905.11,557.02h6.50 M910.89,555.54v7.50 M907.64,559.29h6.50 M913.47,557.77v7.50 M910.22,561.52h6.50 M916.04,560.00v7.50 M912.79,563.75h6.50 M918.59,562.25v7.50 M915.34,566.00h6.50 M921.11,564.55v7.50 M917.86,568.30h6.50 M923.63,566.84v7.50 M920.38,570.59h6.50 M926.15,569.13v7.50 M922.90,572.88h6.50 M928.66,571.43v7.50 M925.41,575.18h6.50 M931.69,572.98v7.50 M928.44,576.73h6.50 M934.74,574.49v7.50 M931.49,578.24h6.50 M937.79,576.01v7.50 M934.54,579.76h6.50 M940.87,577.46v7.50 M937.62,581.21h6.50 M944.03,578.72v7.50 M940.78,582.47h6.50 M947.20,579.98v7.50 M943.95,583.73h6.50 M950.36,581.24v7.50 M947.11,584.99h6.50 M953.53,582.50v7.50 M950.28,586.25h6.50 M956.69,583.77v7.50 M953.44,587.52h6.50 M959.85,585.04v7.50 M956.60,588.79h6.50 M962.95,586.41v7.50 M959.70,590.16h6.50 M965.67,588.47v7.50 M962.42,592.22h6.50 M968.38,590.52v7.50 M965.13,594.27h6.50 M971.10,592.57v7.50 M967.85,596.32h6.50 M973.15,595.26v7.50 M969.90,599.01h6.50 M975.05,598.09v7.50 M971.80,601.84h6.50" stroke="#000" stroke-width="1.70" fill="none"/>
<polyline points="859.00,436.80 866.90,449.10 873.60,461.50 880.40,464.90 886.00,472.80 891.70,484.10 892.80,497.60 897.30,504.30 900.70,510.00 906.30,513.30 908.60,516.10 918.70,516.10 919.80,523.50 920.90,531.40 958.10,531.40 958.10,544.90 1010.10,544.90 1010.10,563.90 1089.30,563.90" fill="none" stroke="#DC2430" stroke-width="1.60" stroke-linejoin="miter" />
<polyline points="859.00,436.80 866.90,449.10 873.60,461.50 874.00,461.70" fill="none" stroke="#DC2430" stroke-width="4.80" stroke-linejoin="miter" stroke-linecap="round" stroke-linejoin="round"/>
<path d="M910.00,512.35v7.50 M906.75,516.10h6.50 M913.00,512.35v7.50 M909.75,516.10h6.50 M916.00,512.35v7.50 M912.75,516.10h6.50 M923.50,527.65v7.50 M920.25,531.40h6.50 M927.20,527.65v7.50 M923.95,531.40h6.50 M943.80,527.65v7.50 M940.55,531.40h6.50 M947.60,527.65v7.50 M944.35,531.40h6.50 M951.40,527.65v7.50 M948.15,531.40h6.50 M977.00,541.15v7.50 M973.75,544.90h6.50 M981.50,541.15v7.50 M978.25,544.90h6.50 M1010.10,541.15v7.50 M1006.85,544.90h6.50 M1014.70,560.15v7.50 M1011.45,563.90h6.50 M1018.40,560.15v7.50 M1015.15,563.90h6.50 M1023.00,560.15v7.50 M1019.75,563.90h6.50 M1032.00,560.15v7.50 M1028.75,563.90h6.50 M1055.40,560.15v7.50 M1052.15,563.90h6.50 M1088.20,560.15v7.50 M1084.95,563.90h6.50 M859.98,434.58v7.50 M856.73,438.33h6.50 M861.95,437.65v7.50 M858.70,441.40h6.50 M863.92,440.72v7.50 M860.67,444.47h6.50 M865.89,443.78v7.50 M862.64,447.53h6.50 M867.75,446.92v7.50 M864.50,450.67h6.50 M869.48,450.13v7.50 M866.23,453.88h6.50 M871.21,453.33v7.50 M867.96,457.08h6.50 M872.95,456.54v7.50 M869.70,460.29h6.50 M877.81,459.85v7.50 M874.56,463.60h6.50 M881.06,462.08v7.50 M877.81,465.83h6.50 M883.40,465.38v7.50 M880.15,469.13h6.50 M885.74,468.68v7.50 M882.49,472.43h6.50 M887.62,472.26v7.50 M884.37,476.01h6.50 M889.44,475.87v7.50 M886.19,479.62h6.50 M891.26,479.48v7.50 M888.01,483.23h6.50 M891.95,483.40v7.50 M888.70,487.15h6.50 M892.28,487.43v7.50 M889.03,491.18h6.50 M892.61,491.46v7.50 M889.36,495.21h6.50 M893.72,495.22v7.50 M890.47,498.97h6.50 M895.97,498.58v7.50 M892.72,502.33h6.50 M898.15,501.98v7.50 M894.90,505.73h6.50 M900.22,505.45v7.50 M896.97,509.20h6.50 M903.38,507.83v7.50 M900.13,511.58h6.50 M906.72,510.06v7.50 M903.47,513.81h6.50" stroke="#DC2430" stroke-width="1.70" fill="none"/>
<rect x="515.20" y="746.20" width="311.60" height="262.10" fill="none" stroke="#000" stroke-width="2.00"/>
<path d="M515.20,756.50H509.20 M515.20,804.90H509.20 M515.20,853.30H509.20 M515.20,901.80H509.20 M515.20,950.20H509.20 M515.20,998.60H509.20 M526.50,1008.30V1014.30 M612.70,1008.30V1014.30 M698.30,1008.30V1014.30 M783.80,1008.30V1014.30" stroke="#000" stroke-width="1.80" fill="none"/>
<text transform="translate(499.00 773.22) rotate(-90)" x="0" y="0" font-size="25.29" font-weight="bold" fill="#000" stroke="#000" stroke-width="0.25" textLength="32.98" lengthAdjust="spacingAndGlyphs" xml:space="preserve"><tspan>1.0</tspan></text>
<text transform="translate(499.00 821.13) rotate(-90)" x="0" y="0" font-size="25.29" font-weight="bold" fill="#000" stroke="#000" stroke-width="0.25" textLength="32.23" lengthAdjust="spacingAndGlyphs" xml:space="preserve"><tspan>0.8</tspan></text>
<text transform="translate(499.00 869.53) rotate(-90)" x="0" y="0" font-size="25.29" font-weight="bold" fill="#000" stroke="#000" stroke-width="0.25" textLength="32.35" lengthAdjust="spacingAndGlyphs" xml:space="preserve"><tspan>0.6</tspan></text>
<text transform="translate(499.00 918.01) rotate(-90)" x="0" y="0" font-size="25.29" font-weight="bold" fill="#000" stroke="#000" stroke-width="0.25" textLength="31.63" lengthAdjust="spacingAndGlyphs" xml:space="preserve"><tspan>0.4</tspan></text>
<text transform="translate(499.00 966.43) rotate(-90)" x="0" y="0" font-size="25.29" font-weight="bold" fill="#000" stroke="#000" stroke-width="0.25" textLength="32.47" lengthAdjust="spacingAndGlyphs" xml:space="preserve"><tspan>0.2</tspan></text>
<text transform="translate(499.00 1014.83) rotate(-90)" x="0" y="0" font-size="25.29" font-weight="bold" fill="#000" stroke="#000" stroke-width="0.25" textLength="32.47" lengthAdjust="spacingAndGlyphs" xml:space="preserve"><tspan>0.0</tspan></text>
<text transform="translate(454.94 948.91) rotate(-90)" x="0" y="0" font-size="25.99" font-weight="bold" fill="#000" stroke="#000" stroke-width="0.25" textLength="152.14" lengthAdjust="spacingAndGlyphs" xml:space="preserve"><tspan>Probability</tspan></text>
<text x="585.84" y="775.90" font-size="20.41" font-weight="bold" fill="#000" stroke="#000" stroke-width="0.25" textLength="219.33" lengthAdjust="spacingAndGlyphs" xml:space="preserve"><tspan>HR = 0.66 (0.47 − 0.94)</tspan></text>
<text x="626.25" y="807.50" font-size="20.41" font-weight="bold" fill="#000" stroke="#000" stroke-width="0.25" textLength="184.48" lengthAdjust="spacingAndGlyphs" xml:space="preserve"><tspan>LogRank </tspan><tspan font-style="italic">P</tspan><tspan> = 0.019</tspan></text>
<polyline points="526.30,754.80 531.90,771.60 538.60,784.00 542.00,802.10 545.40,811.10 546.50,824.60 549.90,833.60 553.30,841.50 556.70,849.40 560.00,857.20 564.50,864.00 570.20,870.70 575.80,876.40 582.60,880.90 583.70,888.80 588.20,896.60 598.30,897.80 600.60,901.20 614.10,902.30 616.40,906.80 626.50,907.90 631.00,913.50 634.40,920.30 635.50,922.50 677.60,922.50 677.60,935.00 694.40,935.00 695.00,956.60 815.50,956.60" fill="none" stroke="#000" stroke-width="1.80" stroke-linejoin="miter" />
<polyline points="545.00,810.04 545.40,811.10 546.50,824.60 549.90,833.60 553.30,841.50 556.70,849.40 560.00,857.20 564.50,864.00 570.20,870.70 575.80,876.40 580.00,879.18" fill="none" stroke="#000" stroke-width="4.50" stroke-linejoin="miter" stroke-linecap="round" stroke-linejoin="round"/>
<path d="M532.50,768.96v7.50 M529.25,772.71h6.50 M538.60,780.25v7.50 M535.35,784.00h6.50 M541.50,795.69v7.50 M538.25,799.44h6.50 M588.20,892.85v7.50 M584.95,896.60h6.50 M590.00,893.06v7.50 M586.75,896.81h6.50 M594.00,893.54v7.50 M590.75,897.29h6.50 M598.30,894.05v7.50 M595.05,897.80h6.50 M608.00,898.05v7.50 M604.75,901.80h6.50 M611.00,898.30v7.50 M607.75,902.05h6.50 M614.10,898.55v7.50 M610.85,902.30h6.50 M625.00,903.99v7.50 M621.75,907.74h6.50 M660.50,918.75v7.50 M657.25,922.50h6.50 M677.60,918.75v7.50 M674.35,922.50h6.50 M691.80,931.25v7.50 M688.55,935.00h6.50 M719.60,952.85v7.50 M716.35,956.60h6.50 M814.50,952.85v7.50 M811.25,956.60h6.50 M545.46,808.09v7.50 M542.21,811.84h6.50 M545.76,811.82v7.50 M542.51,815.57h6.50 M546.07,815.55v7.50 M542.82,819.30h6.50 M546.37,819.28v7.50 M543.12,823.03h6.50 M547.27,822.88v7.50 M544.02,826.63h6.50 M548.59,826.38v7.50 M545.34,830.13h6.50 M549.91,829.88v7.50 M546.66,833.63h6.50 M551.39,833.32v7.50 M548.14,837.07h6.50 M552.87,836.75v7.50 M549.62,840.50h6.50 M554.35,840.19v7.50 M551.10,843.94h6.50 M555.83,843.63v7.50 M552.58,847.38h6.50 M557.30,847.07v7.50 M554.05,850.82h6.50 M558.76,850.52v7.50 M555.51,854.27h6.50 M560.31,853.92v7.50 M557.06,857.67h6.50 M562.38,857.04v7.50 M559.13,860.79h6.50 M564.44,860.16v7.50 M561.19,863.91h6.50 M566.86,863.02v7.50 M563.61,866.77h6.50 M569.28,865.87v7.50 M566.03,869.62h6.50 M571.83,868.61v7.50 M568.58,872.36h6.50 M574.45,871.28v7.50 M571.20,875.03h6.50 M577.32,873.65v7.50 M574.07,877.40h6.50 M580.44,875.72v7.50 M577.19,879.47h6.50 M627.23,905.05v7.50 M623.98,908.80h6.50 M629.31,907.65v7.50 M626.06,911.40h6.50 M631.28,910.31v7.50 M628.03,914.06h6.50 M632.77,913.29v7.50 M629.52,917.04h6.50 M634.26,916.26v7.50 M631.01,920.01h6.50" stroke="#000" stroke-width="1.70" fill="none"/>
<polyline points="526.30,754.80 533.00,762.60 538.60,770.50 542.00,780.70 548.80,790.80 553.30,802.10 557.80,811.10 560.00,817.80 561.20,826.80 562.90,838.10 565.70,846.00 570.20,852.70 575.80,858.40 580.30,860.60 587.10,862.90 591.60,867.40 595.00,870.20 605.10,870.20 607.30,875.30 610.70,878.60 622.00,879.80 625.40,888.80 637.70,888.80 640.00,892.10 643.40,895.00 816.40,895.00" fill="none" stroke="#DC2430" stroke-width="1.60" stroke-linejoin="miter" />
<polyline points="526.30,754.80 533.00,762.60 538.60,770.50 541.00,777.70" fill="none" stroke="#DC2430" stroke-width="5.00" stroke-linejoin="miter" stroke-linecap="round" stroke-linejoin="round"/>
<polyline points="542.00,780.70 548.80,790.80 553.30,802.10 557.80,811.10 560.00,817.80" fill="none" stroke="#DC2430" stroke-width="5.00" stroke-linejoin="miter" stroke-linecap="round" stroke-linejoin="round"/>
<polyline points="564.00,841.20 565.70,846.00 570.20,852.70 575.80,858.40 580.30,860.60 582.00,861.18" fill="none" stroke="#DC2430" stroke-width="4.50" stroke-linejoin="miter" stroke-linecap="round" stroke-linejoin="round"/>
<path d="M609.00,873.20v7.50 M605.75,876.95h6.50 M612.00,874.99v7.50 M608.75,878.74h6.50 M616.00,875.41v7.50 M612.75,879.16h6.50 M619.00,875.73v7.50 M615.75,879.48h6.50 M622.00,876.05v7.50 M618.75,879.80h6.50 M639.50,887.63v7.50 M636.25,891.38h6.50 M642.70,890.65v7.50 M639.45,894.40h6.50 M645.90,891.25v7.50 M642.65,895.00h6.50 M649.20,891.25v7.50 M645.95,895.00h6.50 M676.60,891.25v7.50 M673.35,895.00h6.50 M681.70,891.25v7.50 M678.45,895.00h6.50 M686.80,891.25v7.50 M683.55,895.00h6.50 M692.00,891.25v7.50 M688.75,895.00h6.50 M697.00,891.25v7.50 M693.75,895.00h6.50 M715.40,891.25v7.50 M712.15,895.00h6.50 M721.80,891.25v7.50 M718.55,895.00h6.50 M744.40,891.25v7.50 M741.15,895.00h6.50 M754.10,891.25v7.50 M750.85,895.00h6.50 M775.10,891.25v7.50 M771.85,895.00h6.50 M815.50,891.25v7.50 M812.25,895.00h6.50 M527.39,752.31v7.50 M524.14,756.06h6.50 M529.56,754.84v7.50 M526.31,758.59h6.50 M531.73,757.37v7.50 M528.48,761.12h6.50 M533.80,759.98v7.50 M530.55,763.73h6.50 M535.73,762.71v7.50 M532.48,766.46h6.50 M537.66,765.43v7.50 M534.41,769.18h6.50 M539.14,768.37v7.50 M535.89,772.12h6.50 M540.20,771.54v7.50 M536.95,775.29h6.50 M541.25,774.70v7.50 M538.00,778.45h6.50 M542.54,777.75v7.50 M539.29,781.50h6.50 M544.40,780.52v7.50 M541.15,784.27h6.50 M546.26,783.28v7.50 M543.01,787.03h6.50 M548.13,786.05v7.50 M544.88,789.80h6.50 M549.59,789.03v7.50 M546.34,792.78h6.50 M550.82,792.13v7.50 M547.57,795.88h6.50 M552.06,795.23v7.50 M548.81,798.98h6.50 M553.29,798.33v7.50 M550.04,802.08h6.50 M554.78,801.31v7.50 M551.53,805.06h6.50 M556.27,804.29v7.50 M553.02,808.04h6.50 M557.76,807.28v7.50 M554.51,811.03h6.50 M558.81,810.44v7.50 M555.56,814.19h6.50 M559.85,813.61v7.50 M556.60,817.36h6.50 M560.38,816.90v7.50 M557.13,820.65h6.50 M560.82,820.20v7.50 M557.57,823.95h6.50 M561.27,823.51v7.50 M558.02,827.26h6.50 M561.76,826.80v7.50 M558.51,830.55h6.50 M562.26,830.10v7.50 M559.01,833.85h6.50 M562.76,833.40v7.50 M559.51,837.15h6.50 M563.69,836.59v7.50 M560.44,840.34h6.50 M564.81,839.73v7.50 M561.56,843.48h6.50 M566.07,842.80v7.50 M562.82,846.55h6.50 M567.93,845.57v7.50 M564.68,849.32h6.50 M569.79,848.34v7.50 M566.54,852.09h6.50 M572.02,850.80v7.50 M568.77,854.55h6.50 M574.36,853.18v7.50 M571.11,856.93h6.50 M576.95,855.21v7.50 M573.70,858.96h6.50 M579.94,856.68v7.50 M576.69,860.43h6.50 M583.08,857.79v7.50 M579.83,861.54h6.50 M586.24,858.86v7.50 M582.99,862.61h6.50 M588.82,860.87v7.50 M585.57,864.62h6.50 M591.18,863.23v7.50 M587.93,866.98h6.50 M593.71,865.39v7.50 M590.46,869.14h6.50" stroke="#DC2430" stroke-width="1.70" fill="none"/>
<rect x="851.60" y="748.40" width="311.20" height="261.30" fill="none" stroke="#000" stroke-width="2.00"/>
<path d="M851.60,758.20H845.60 M851.60,806.40H845.60 M851.60,855.00H845.60 M851.60,903.30H845.60 M851.60,952.00H845.60 M851.60,1000.20H845.60 M862.80,1009.70V1015.70 M948.60,1009.70V1015.70 M1034.20,1009.70V1015.70 M1119.70,1009.70V1015.70" stroke="#000" stroke-width="1.80" fill="none"/>
<text x="921.64" y="777.80" font-size="20.41" font-weight="bold" fill="#000" stroke="#000" stroke-width="0.25" textLength="219.02" lengthAdjust="spacingAndGlyphs" xml:space="preserve"><tspan>HR = 0.68 (0.48 − 0.97)</tspan></text>
<text x="974.45" y="807.80" font-size="20.41" font-weight="bold" fill="#000" stroke="#000" stroke-width="0.25" textLength="172.96" lengthAdjust="spacingAndGlyphs" xml:space="preserve"><tspan>LogRank </tspan><tspan font-style="italic">P</tspan><tspan> = 0.03</tspan></text>
<polyline points="863.30,757.00 867.80,767.10 872.30,780.70 875.60,793.00 877.90,815.60 881.30,826.80 882.40,838.10 885.80,844.80 891.40,855.00 895.90,866.20 901.50,874.10 907.20,879.80 915.10,882.00 919.60,887.60 930.80,889.90 935.30,895.00 944.30,895.00 951.10,895.50 957.90,897.80 960.10,903.40 965.70,904.50 968.00,911.30 970.20,921.40 1030.00,921.40 1031.40,941.10 1151.70,941.10" fill="none" stroke="#000" stroke-width="1.80" stroke-linejoin="miter" />
<polyline points="881.00,825.81 881.30,826.80 882.40,838.10 885.80,844.80 891.40,855.00 895.00,863.96" fill="none" stroke="#000" stroke-width="4.20" stroke-linejoin="miter" stroke-linecap="round" stroke-linejoin="round"/>
<path d="M867.00,761.55v7.50 M863.75,765.30h6.50 M869.50,768.49v7.50 M866.25,772.24h6.50 M873.00,779.56v7.50 M869.75,783.31h6.50 M875.00,787.01v7.50 M871.75,790.76h6.50 M910.00,876.83v7.50 M906.75,880.58h6.50 M913.00,877.67v7.50 M909.75,881.42h6.50 M916.00,879.37v7.50 M912.75,883.12h6.50 M925.80,885.12v7.50 M922.55,888.87h6.50 M931.40,886.83v7.50 M928.15,890.58h6.50 M945.30,891.32v7.50 M942.05,895.07h6.50 M949.40,891.62v7.50 M946.15,895.38h6.50 M958.00,894.30v7.50 M954.75,898.05h6.50 M961.00,899.83v7.50 M957.75,903.58h6.50 M966.00,901.64v7.50 M962.75,905.39h6.50 M969.00,912.14v7.50 M965.75,915.89h6.50 M971.70,917.65v7.50 M968.45,921.40h6.50 M980.00,917.65v7.50 M976.75,921.40h6.50 M996.10,917.65v7.50 M992.85,921.40h6.50 M1055.60,937.35v7.50 M1052.35,941.10h6.50 M1058.30,937.35v7.50 M1055.05,941.10h6.50 M1150.80,937.35v7.50 M1147.55,941.10h6.50 M881.42,824.23v7.50 M878.17,827.98h6.50 M881.85,828.65v7.50 M878.60,832.40h6.50 M882.28,833.07v7.50 M879.03,836.82h6.50 M883.83,837.17v7.50 M880.58,840.92h6.50 M885.84,841.13v7.50 M882.59,844.88h6.50 M887.98,845.02v7.50 M884.73,848.77h6.50 M890.12,848.91v7.50 M886.87,852.66h6.50 M892.06,852.90v7.50 M888.81,856.65h6.50 M893.72,857.02v7.50 M890.47,860.77h6.50 M895.37,861.14v7.50 M892.12,864.89h6.50 M897.65,864.92v7.50 M894.40,868.67h6.50 M900.22,868.55v7.50 M896.97,872.30h6.50 M903.08,871.93v7.50 M899.83,875.68h6.50 M906.22,875.07v7.50 M902.97,878.82h6.50" stroke="#000" stroke-width="1.70" fill="none"/>
<polyline points="863.30,757.00 870.00,766.00 875.60,773.90 882.40,784.00 888.00,795.30 891.40,807.70 894.80,815.60 897.00,826.80 899.30,838.10 902.70,847.10 908.30,855.00 913.90,864.00 919.60,865.10 921.80,871.90 928.60,880.90 932.00,882.60 941.00,882.60 944.30,887.60 951.10,891.00 957.90,894.40 964.60,897.80 973.60,897.80 977.00,901.20 981.50,903.40 1013.30,903.40 1013.90,910.60 1152.20,910.60" fill="none" stroke="#DC2430" stroke-width="1.60" stroke-linejoin="miter" />
<polyline points="863.30,757.00 870.00,766.00 875.60,773.90 876.00,774.49" fill="none" stroke="#DC2430" stroke-width="5.00" stroke-linejoin="miter" stroke-linecap="round" stroke-linejoin="round"/>
<polyline points="877.00,775.98 882.40,784.00 888.00,795.30 891.40,807.70 894.80,815.60 895.00,816.62" fill="none" stroke="#DC2430" stroke-width="5.00" stroke-linejoin="miter" stroke-linecap="round" stroke-linejoin="round"/>
<polyline points="901.00,842.60 902.70,847.10 908.30,855.00 913.90,864.00 915.00,864.21" fill="none" stroke="#DC2430" stroke-width="4.50" stroke-linejoin="miter" stroke-linecap="round" stroke-linejoin="round"/>
<polyline points="942.00,884.12 944.30,887.60 951.10,891.00 957.90,894.40 960.00,895.47" fill="none" stroke="#DC2430" stroke-width="3.80" stroke-linejoin="miter" stroke-linecap="round" stroke-linejoin="round"/>
<path d="M1012.80,899.65v7.50 M1009.55,903.40h6.50 M1014.70,906.85v7.50 M1011.45,910.60h6.50 M1018.90,906.85v7.50 M1015.65,910.60h6.50 M1023.00,906.85v7.50 M1019.75,910.60h6.50 M1027.20,906.85v7.50 M1023.95,910.60h6.50 M1032.20,906.85v7.50 M1028.95,910.60h6.50 M1035.00,906.85v7.50 M1031.75,910.60h6.50 M1052.20,906.85v7.50 M1048.95,910.60h6.50 M1081.40,906.85v7.50 M1078.15,910.60h6.50 M1090.60,906.85v7.50 M1087.35,910.60h6.50 M1110.60,906.85v7.50 M1107.35,910.60h6.50 M1151.70,906.85v7.50 M1148.45,910.60h6.50 M864.39,754.71v7.50 M861.14,758.46h6.50 M866.56,757.63v7.50 M863.31,761.38h6.50 M868.74,760.56v7.50 M865.49,764.31h6.50 M870.88,763.50v7.50 M867.63,767.25h6.50 M872.99,766.47v7.50 M869.74,770.22h6.50 M875.10,769.44v7.50 M871.85,773.19h6.50 M877.15,772.45v7.50 M873.90,776.20h6.50 M879.18,775.47v7.50 M875.93,779.22h6.50 M881.22,778.50v7.50 M877.97,782.25h6.50 M883.08,781.62v7.50 M879.83,785.37h6.50 M884.70,784.88v7.50 M881.45,788.63h6.50 M886.31,788.15v7.50 M883.06,791.90h6.50 M887.93,791.41v7.50 M884.68,795.16h6.50 M888.92,794.91v7.50 M885.67,798.66h6.50 M889.89,798.43v7.50 M886.64,802.18h6.50 M890.85,801.94v7.50 M887.60,805.69h6.50 M892.02,805.38v7.50 M888.77,809.13h6.50 M893.46,808.73v7.50 M890.21,812.48h6.50 M894.85,812.09v7.50 M891.60,815.84h6.50 M895.55,815.66v7.50 M892.30,819.41h6.50 M896.25,819.24v7.50 M893.00,822.99h6.50 M896.95,822.81v7.50 M893.70,826.56h6.50 M897.68,826.38v7.50 M894.43,830.13h6.50 M898.41,829.95v7.50 M895.16,833.70h6.50 M899.13,833.52v7.50 M895.88,837.27h6.50 M900.29,836.97v7.50 M897.04,840.72h6.50 M901.58,840.38v7.50 M898.33,844.13h6.50 M902.97,843.73v7.50 M899.72,847.48h6.50 M905.08,846.70v7.50 M901.83,850.45h6.50 M907.18,849.67v7.50 M903.93,853.42h6.50 M909.20,852.70v7.50 M905.95,856.45h6.50 M911.13,855.79v7.50 M907.88,859.54h6.50 M913.05,858.89v7.50 M909.80,862.64h6.50 M915.90,860.64v7.50 M912.65,864.39h6.50 M919.48,861.33v7.50 M916.23,865.08h6.50 M920.68,864.70v7.50 M917.43,868.45h6.50 M921.81,868.16v7.50 M918.56,871.91h6.50 M924.01,871.07v7.50 M920.76,874.82h6.50 M926.20,873.97v7.50 M922.95,877.72h6.50 M928.40,876.88v7.50 M925.15,880.63h6.50 M931.56,878.63v7.50 M928.31,882.38h6.50 M935.15,878.85v7.50 M931.90,882.60h6.50 M938.79,878.85v7.50 M935.54,882.60h6.50 M941.79,880.05v7.50 M938.54,883.80h6.50 M943.80,883.09v7.50 M940.55,886.84h6.50 M946.74,885.07v7.50 M943.49,888.82h6.50 M950.00,886.70v7.50 M946.75,890.45h6.50 M953.26,888.33v7.50 M950.01,892.08h6.50 M956.52,889.96v7.50 M953.27,893.71h6.50 M959.77,891.60v7.50 M956.52,895.35h6.50 M963.02,893.25v7.50 M959.77,897.00h6.50 M966.47,894.05v7.50 M963.22,897.80h6.50 M970.11,894.05v7.50 M966.86,897.80h6.50 M973.71,894.16v7.50 M970.46,897.91h6.50 M976.28,896.73v7.50 M973.03,900.48h6.50 M979.36,898.61v7.50 M976.11,902.36h6.50" stroke="#DC2430" stroke-width="1.70" fill="none"/>
<text x="521.58" y="1040.60" font-size="23.14" font-weight="bold" fill="#000" stroke="#000" stroke-width="0.25" textLength="12.87" lengthAdjust="spacingAndGlyphs" xml:space="preserve"><tspan>0</tspan></text>
<text x="600.97" y="1040.60" font-size="23.14" font-weight="bold" fill="#000" stroke="#000" stroke-width="0.25" textLength="25.74" lengthAdjust="spacingAndGlyphs" xml:space="preserve"><tspan>50</tspan></text>
<text x="684.20" y="1040.60" font-size="23.14" font-weight="bold" fill="#000" stroke="#000" stroke-width="0.25" textLength="38.61" lengthAdjust="spacingAndGlyphs" xml:space="preserve"><tspan>100</tspan></text>
<text x="770.20" y="1040.60" font-size="23.14" font-weight="bold" fill="#000" stroke="#000" stroke-width="0.25" textLength="38.61" lengthAdjust="spacingAndGlyphs" xml:space="preserve"><tspan>150</tspan></text>
<text x="856.42" y="1040.30" font-size="23.00" font-weight="bold" fill="#000" stroke="#000" stroke-width="0.25" textLength="12.79" lengthAdjust="spacingAndGlyphs" xml:space="preserve"><tspan>0</tspan></text>
<text x="936.85" y="1040.30" font-size="23.00" font-weight="bold" fill="#000" stroke="#000" stroke-width="0.25" textLength="25.58" lengthAdjust="spacingAndGlyphs" xml:space="preserve"><tspan>50</tspan></text>
<text x="1017.62" y="1040.30" font-size="23.00" font-weight="bold" fill="#000" stroke="#000" stroke-width="0.25" textLength="38.38" lengthAdjust="spacingAndGlyphs" xml:space="preserve"><tspan>100</tspan></text>
<text x="1103.62" y="1040.30" font-size="23.00" font-weight="bold" fill="#000" stroke="#000" stroke-width="0.25" textLength="38.38" lengthAdjust="spacingAndGlyphs" xml:space="preserve"><tspan>150</tspan></text>
<text x="744.11" y="1082.50" font-size="24.41" font-weight="bold" fill="#000" stroke="#000" stroke-width="0.25" textLength="198.31" lengthAdjust="spacingAndGlyphs" xml:space="preserve"><tspan>Time (months)</tspan></text>
<text x="1176.44" y="442.60" font-size="28.14" font-weight="bold" fill="#000" stroke="#000" stroke-width="0.25" textLength="154.31" lengthAdjust="spacingAndGlyphs" xml:space="preserve"><tspan>Expression</tspan></text>
<line x1="1179.70" y1="466.30" x2="1202.60" y2="466.30" stroke="#DC2430" stroke-width="1.80" />
<text x="1213.84" y="473.20" font-size="23.45" font-weight="bold" fill="#000" stroke="#000" stroke-width="0.25" textLength="53.19" lengthAdjust="spacingAndGlyphs" xml:space="preserve"><tspan>high</tspan></text>
<line x1="1179.70" y1="493.70" x2="1202.60" y2="493.70" stroke="#000" stroke-width="1.80" />
<text x="1215.97" y="500.20" font-size="23.72" font-weight="bold" fill="#000" stroke="#000" stroke-width="0.25" textLength="41.25" lengthAdjust="spacingAndGlyphs" xml:space="preserve"><tspan>low</tspan></text>
<text x="2.28" y="1174.20" font-size="37.79" font-weight="bold" fill="#000" stroke="#000" stroke-width="0.25" textLength="23.22" lengthAdjust="spacingAndGlyphs" xml:space="preserve"><tspan>d</tspan></text>
<text x="563.55" y="1156.60" font-size="36.00" font-weight="bold" fill="#000" stroke="#000" stroke-width="0.25" textLength="123.38" lengthAdjust="spacingAndGlyphs" xml:space="preserve"><tspan>NMIBC</tspan></text>
<text x="158.32" y="1177.30" font-size="26.21" font-weight="bold" fill="#000" stroke="#000" stroke-width="0.25" textLength="208.73" lengthAdjust="spacingAndGlyphs" xml:space="preserve"><tspan>Y chromosome</tspan></text>
<text x="195.78" y="1210.10" font-size="25.93" font-weight="bold" fill="#000" stroke="#000" stroke-width="0.25" textLength="131.58" lengthAdjust="spacingAndGlyphs" xml:space="preserve"><tspan>signature</tspan></text>
<text x="609.87" y="1213.60" font-size="27.54" font-weight="bold" fill="#000" stroke="#000" stroke-width="0.25" textLength="57.67" lengthAdjust="spacingAndGlyphs" xml:space="preserve"><tspan font-style="italic">UTY</tspan></text>
<text x="939.22" y="1211.10" font-size="28.26" font-weight="bold" fill="#000" stroke="#000" stroke-width="0.25" textLength="103.94" lengthAdjust="spacingAndGlyphs" xml:space="preserve"><tspan font-style="italic">KDM5D</tspan></text>
<rect x="119.10" y="1226.00" width="310.90" height="273.00" fill="none" stroke="#000" stroke-width="2.00"/>
<path d="M119.10,1277.70H113.10 M119.10,1333.10H113.10 M119.10,1385.50H113.10 M119.10,1436.60H113.10 M119.10,1486.60H113.10 M133.60,1499.00V1505.00 M207.90,1499.00V1505.00 M282.50,1499.00V1505.00 M355.70,1499.00V1505.00 M430.00,1499.00V1505.00" stroke="#000" stroke-width="1.80" fill="none"/>
<text transform="translate(106.40 1257.98) rotate(-90)" x="0" y="0" font-size="26.14" font-weight="bold" fill="#000" stroke="#000" stroke-width="0.25" textLength="35.45" lengthAdjust="spacingAndGlyphs" xml:space="preserve"><tspan>1.0</tspan></text>
<text transform="translate(106.40 1304.95) rotate(-90)" x="0" y="0" font-size="26.14" font-weight="bold" fill="#000" stroke="#000" stroke-width="0.25" textLength="34.65" lengthAdjust="spacingAndGlyphs" xml:space="preserve"><tspan>0.8</tspan></text>
<text transform="translate(106.40 1353.45) rotate(-90)" x="0" y="0" font-size="26.14" font-weight="bold" fill="#000" stroke="#000" stroke-width="0.25" textLength="34.78" lengthAdjust="spacingAndGlyphs" xml:space="preserve"><tspan>0.6</tspan></text>
<text transform="translate(106.40 1402.43) rotate(-90)" x="0" y="0" font-size="26.14" font-weight="bold" fill="#000" stroke="#000" stroke-width="0.25" textLength="34.00" lengthAdjust="spacingAndGlyphs" xml:space="preserve"><tspan>0.4</tspan></text>
<text transform="translate(106.40 1446.85) rotate(-90)" x="0" y="0" font-size="26.14" font-weight="bold" fill="#000" stroke="#000" stroke-width="0.25" textLength="34.91" lengthAdjust="spacingAndGlyphs" xml:space="preserve"><tspan>0.2</tspan></text>
<text transform="translate(106.40 1494.85) rotate(-90)" x="0" y="0" font-size="26.14" font-weight="bold" fill="#000" stroke="#000" stroke-width="0.25" textLength="34.91" lengthAdjust="spacingAndGlyphs" xml:space="preserve"><tspan>0.0</tspan></text>
<text transform="translate(63.14 1434.88) rotate(-90)" x="0" y="0" font-size="25.99" font-weight="bold" fill="#000" stroke="#000" stroke-width="0.25" textLength="149.09" lengthAdjust="spacingAndGlyphs" xml:space="preserve"><tspan>Probability</tspan></text>
<text x="141.95" y="1446.70" font-size="21.10" font-weight="bold" fill="#000" stroke="#000" stroke-width="0.25" textLength="218.22" lengthAdjust="spacingAndGlyphs" xml:space="preserve"><tspan>HR = 0.46 (0.20 − 1.05)</tspan></text>
<text x="141.96" y="1476.70" font-size="21.10" font-weight="bold" fill="#000" stroke="#000" stroke-width="0.25" textLength="183.16" lengthAdjust="spacingAndGlyphs" xml:space="preserve"><tspan>LogRank </tspan><tspan font-style="italic">P</tspan><tspan> = 0.061</tspan></text>
<polyline points="131.80,1238.50 141.11,1238.50 141.11,1241.76 146.93,1241.76 146.93,1247.11 153.91,1247.11 153.91,1249.44 174.85,1249.44 174.85,1250.60 181.83,1250.60 181.83,1252.93 200.45,1252.93 200.45,1256.42 219.07,1256.42 219.07,1257.58 228.38,1257.58 228.38,1259.91 244.67,1259.91 244.67,1261.07 295.87,1261.07 295.87,1262.24 295.87,1262.24 295.87,1268.05 404.08,1268.05 404.08,1268.05" fill="none" stroke="#000" stroke-width="1.80" stroke-linejoin="miter" />
<path d="M132.96,1234.75v7.50 M129.96,1238.50h6.00 M138.78,1234.75v7.50 M135.78,1238.50h6.00 M149.25,1243.36v7.50 M146.25,1247.11h6.00 M157.40,1245.69v7.50 M154.40,1249.44h6.00 M165.54,1245.69v7.50 M162.54,1249.44h6.00 M173.69,1245.69v7.50 M170.69,1249.44h6.00 M181.45,1246.85v7.50 M178.45,1250.60h6.00 M183.20,1249.18v7.50 M180.20,1252.93h6.00 M185.21,1249.18v7.50 M182.21,1252.93h6.00 M186.41,1249.18v7.50 M183.41,1252.93h6.00 M188.10,1249.18v7.50 M185.10,1252.93h6.00 M189.82,1249.18v7.50 M186.82,1252.93h6.00 M191.07,1249.18v7.50 M188.07,1252.93h6.00 M193.05,1249.18v7.50 M190.05,1252.93h6.00 M194.81,1249.18v7.50 M191.81,1252.93h6.00 M196.62,1249.18v7.50 M193.62,1252.93h6.00 M197.58,1249.18v7.50 M194.58,1252.93h6.00 M199.43,1249.18v7.50 M196.43,1252.93h6.00 M214.86,1252.67v7.50 M211.86,1256.42h6.00 M217.36,1252.67v7.50 M214.36,1256.42h6.00 M218.98,1252.67v7.50 M215.98,1256.42h6.00 M220.04,1253.83v7.50 M217.04,1257.58h6.00 M222.77,1253.83v7.50 M219.77,1257.58h6.00 M224.50,1253.83v7.50 M221.50,1257.58h6.00 M225.92,1253.83v7.50 M222.92,1257.58h6.00 M227.63,1253.83v7.50 M224.63,1257.58h6.00 M231.22,1256.16v7.50 M228.22,1259.91h6.00 M232.82,1256.16v7.50 M229.82,1259.91h6.00 M235.10,1256.16v7.50 M232.10,1259.91h6.00 M236.35,1256.16v7.50 M233.35,1259.91h6.00 M238.24,1256.16v7.50 M235.24,1259.91h6.00 M240.04,1256.16v7.50 M237.04,1259.91h6.00 M241.56,1256.16v7.50 M238.56,1259.91h6.00 M243.76,1256.16v7.50 M240.76,1259.91h6.00 M247.86,1257.32v7.50 M244.86,1261.07h6.00 M250.17,1257.32v7.50 M247.17,1261.07h6.00 M251.67,1257.32v7.50 M248.67,1261.07h6.00 M253.67,1257.32v7.50 M250.67,1261.07h6.00 M255.37,1257.32v7.50 M252.37,1261.07h6.00 M257.42,1257.32v7.50 M254.42,1261.07h6.00 M259.05,1257.32v7.50 M256.05,1261.07h6.00 M260.71,1257.32v7.50 M257.71,1261.07h6.00 M263.38,1257.32v7.50 M260.38,1261.07h6.00 M265.24,1257.32v7.50 M262.24,1261.07h6.00 M269.03,1257.32v7.50 M266.03,1261.07h6.00 M270.46,1257.32v7.50 M267.46,1261.07h6.00 M271.65,1257.32v7.50 M268.65,1261.07h6.00 M273.12,1257.32v7.50 M270.12,1261.07h6.00 M274.73,1257.32v7.50 M271.73,1261.07h6.00 M276.07,1257.32v7.50 M273.07,1261.07h6.00 M283.06,1257.32v7.50 M280.06,1261.07h6.00 M284.42,1257.32v7.50 M281.42,1261.07h6.00 M286.63,1257.32v7.50 M283.63,1261.07h6.00 M287.89,1257.32v7.50 M284.89,1261.07h6.00 M290.24,1257.32v7.50 M287.24,1261.07h6.00 M291.87,1257.32v7.50 M288.87,1261.07h6.00 M292.73,1257.32v7.50 M289.73,1261.07h6.00 M294.69,1257.32v7.50 M291.69,1261.07h6.00 M299.93,1264.30v7.50 M296.93,1268.05h6.00 M301.64,1264.30v7.50 M298.64,1268.05h6.00 M304.68,1264.30v7.50 M301.68,1268.05h6.00 M310.34,1264.30v7.50 M307.34,1268.05h6.00 M311.28,1264.30v7.50 M308.28,1268.05h6.00 M312.83,1264.30v7.50 M309.83,1268.05h6.00 M322.63,1264.30v7.50 M319.63,1268.05h6.00 M327.28,1264.30v7.50 M324.28,1268.05h6.00 M340.34,1264.30v7.50 M337.34,1268.05h6.00 M341.83,1264.30v7.50 M338.83,1268.05h6.00 M343.73,1264.30v7.50 M340.73,1268.05h6.00 M346.17,1264.30v7.50 M343.17,1268.05h6.00 M349.11,1264.30v7.50 M346.11,1268.05h6.00 M350.98,1264.30v7.50 M347.98,1268.05h6.00 M355.53,1264.30v7.50 M352.53,1268.05h6.00 M356.78,1264.30v7.50 M353.78,1268.05h6.00 M357.84,1264.30v7.50 M354.84,1268.05h6.00 M363.72,1264.30v7.50 M360.72,1268.05h6.00 M365.96,1264.30v7.50 M362.96,1268.05h6.00 M366.94,1264.30v7.50 M363.94,1268.05h6.00 M374.99,1264.30v7.50 M371.99,1268.05h6.00 M384.30,1264.30v7.50 M381.30,1268.05h6.00 M392.45,1264.30v7.50 M389.45,1268.05h6.00 M404.08,1264.30v7.50 M401.08,1268.05h6.00" stroke="#000" stroke-width="1.50" fill="none"/>
<path d="M180.70,1250.60 L181.83,1250.60 L181.83,1252.93 L200.45,1252.93 L200.45,1256.42 L200.50,1256.42" fill="none" stroke="#000" stroke-width="5.00" stroke-linecap="butt" stroke-linejoin="miter"/>
<path d="M214.40,1256.42 L219.07,1256.42 L219.07,1257.58 L228.38,1257.58 L228.38,1259.91 L228.40,1259.91" fill="none" stroke="#000" stroke-width="5.00" stroke-linecap="butt" stroke-linejoin="miter"/>
<path d="M230.70,1259.91 L244.67,1259.91 L244.67,1261.07 L244.70,1261.07" fill="none" stroke="#000" stroke-width="5.00" stroke-linecap="butt" stroke-linejoin="miter"/>
<path d="M247.00,1261.07 L265.60,1261.07" fill="none" stroke="#000" stroke-width="5.00" stroke-linecap="butt" stroke-linejoin="miter"/>
<path d="M267.90,1261.07 L277.20,1261.07" fill="none" stroke="#000" stroke-width="5.00" stroke-linecap="butt" stroke-linejoin="miter"/>
<path d="M281.90,1261.07 L295.87,1261.07 L295.87,1262.24 L295.87,1268.05 L295.90,1268.05" fill="none" stroke="#000" stroke-width="5.00" stroke-linecap="butt" stroke-linejoin="miter"/>
<path d="M338.90,1268.05 L351.70,1268.05" fill="none" stroke="#000" stroke-width="5.00" stroke-linecap="butt" stroke-linejoin="miter"/>
<polyline points="131.80,1238.50 141.11,1238.50 141.11,1241.76 144.60,1241.76 144.60,1243.15 188.82,1243.15 188.82,1245.48 228.38,1245.48 228.38,1248.27 263.29,1248.27 263.29,1251.06 414.56,1251.06 414.56,1251.06" fill="none" stroke="#DC2430" stroke-width="1.60" stroke-linejoin="miter" />
<path d="M132.96,1234.75v7.50 M129.96,1238.50h6.00 M137.62,1234.75v7.50 M134.62,1238.50h6.00 M149.25,1239.40v7.50 M146.25,1243.15h6.00 M157.40,1239.40v7.50 M154.40,1243.15h6.00 M165.54,1239.40v7.50 M162.54,1243.15h6.00 M172.53,1239.40v7.50 M169.53,1243.15h6.00 M179.12,1239.40v7.50 M176.12,1243.15h6.00 M180.89,1239.40v7.50 M177.89,1243.15h6.00 M182.50,1239.40v7.50 M179.50,1243.15h6.00 M183.60,1239.40v7.50 M180.60,1243.15h6.00 M185.07,1239.40v7.50 M182.07,1243.15h6.00 M187.02,1239.40v7.50 M184.02,1243.15h6.00 M188.53,1239.40v7.50 M185.53,1243.15h6.00 M190.64,1241.73v7.50 M187.64,1245.48h6.00 M200.18,1241.73v7.50 M197.18,1245.48h6.00 M201.56,1241.73v7.50 M198.56,1245.48h6.00 M202.98,1241.73v7.50 M199.98,1245.48h6.00 M204.52,1241.73v7.50 M201.52,1245.48h6.00 M214.83,1241.73v7.50 M211.83,1245.48h6.00 M216.54,1241.73v7.50 M213.54,1245.48h6.00 M217.76,1241.73v7.50 M214.76,1245.48h6.00 M219.86,1241.73v7.50 M216.86,1245.48h6.00 M220.58,1241.73v7.50 M217.58,1245.48h6.00 M222.69,1241.73v7.50 M219.69,1245.48h6.00 M223.50,1241.73v7.50 M220.50,1245.48h6.00 M225.49,1241.73v7.50 M222.49,1245.48h6.00 M231.33,1244.52v7.50 M228.33,1248.27h6.00 M232.94,1244.52v7.50 M229.94,1248.27h6.00 M234.90,1244.52v7.50 M231.90,1248.27h6.00 M235.69,1244.52v7.50 M232.69,1248.27h6.00 M237.28,1244.52v7.50 M234.28,1248.27h6.00 M239.63,1244.52v7.50 M236.63,1248.27h6.00 M245.70,1244.52v7.50 M242.70,1248.27h6.00 M247.22,1244.52v7.50 M244.22,1248.27h6.00 M250.36,1244.52v7.50 M247.36,1248.27h6.00 M252.34,1244.52v7.50 M249.34,1248.27h6.00 M253.36,1244.52v7.50 M250.36,1248.27h6.00 M255.77,1244.52v7.50 M252.77,1248.27h6.00 M257.46,1244.52v7.50 M254.46,1248.27h6.00 M259.71,1244.52v7.50 M256.71,1248.27h6.00 M266.50,1247.31v7.50 M263.50,1251.06h6.00 M267.63,1247.31v7.50 M264.63,1251.06h6.00 M269.68,1247.31v7.50 M266.68,1251.06h6.00 M270.63,1247.31v7.50 M267.63,1251.06h6.00 M272.29,1247.31v7.50 M269.29,1251.06h6.00 M274.44,1247.31v7.50 M271.44,1251.06h6.00 M282.67,1247.31v7.50 M279.67,1251.06h6.00 M284.44,1247.31v7.50 M281.44,1251.06h6.00 M286.37,1247.31v7.50 M283.37,1251.06h6.00 M287.99,1247.31v7.50 M284.99,1251.06h6.00 M289.64,1247.31v7.50 M286.64,1251.06h6.00 M291.01,1247.31v7.50 M288.01,1251.06h6.00 M293.49,1247.31v7.50 M290.49,1251.06h6.00 M295.48,1247.31v7.50 M292.48,1251.06h6.00 M301.74,1247.31v7.50 M298.74,1251.06h6.00 M303.00,1247.31v7.50 M300.00,1251.06h6.00 M304.27,1247.31v7.50 M301.27,1251.06h6.00 M310.80,1247.31v7.50 M307.80,1251.06h6.00 M313.59,1247.31v7.50 M310.59,1251.06h6.00 M315.89,1247.31v7.50 M312.89,1251.06h6.00 M317.44,1247.31v7.50 M314.44,1251.06h6.00 M319.93,1247.31v7.50 M316.93,1251.06h6.00 M322.44,1247.31v7.50 M319.44,1251.06h6.00 M329.61,1247.31v7.50 M326.61,1251.06h6.00 M341.25,1247.31v7.50 M338.25,1251.06h6.00 M348.82,1247.31v7.50 M345.82,1251.06h6.00 M350.19,1247.31v7.50 M347.19,1251.06h6.00 M351.14,1247.31v7.50 M348.14,1251.06h6.00 M356.71,1247.31v7.50 M353.71,1251.06h6.00 M359.00,1247.31v7.50 M356.00,1251.06h6.00 M360.19,1247.31v7.50 M357.19,1251.06h6.00 M369.77,1247.31v7.50 M366.77,1251.06h6.00 M370.73,1247.31v7.50 M367.73,1251.06h6.00 M372.03,1247.31v7.50 M369.03,1251.06h6.00 M384.97,1247.31v7.50 M381.97,1251.06h6.00 M386.88,1247.31v7.50 M383.88,1251.06h6.00 M387.81,1247.31v7.50 M384.81,1251.06h6.00 M395.94,1247.31v7.50 M392.94,1251.06h6.00 M405.25,1247.31v7.50 M402.25,1251.06h6.00 M411.06,1247.31v7.50 M408.06,1251.06h6.00" stroke="#DC2430" stroke-width="1.50" fill="none"/>
<path d="M178.30,1243.15 L188.82,1243.15 L188.82,1245.48 L191.10,1245.48" fill="none" stroke="#DC2430" stroke-width="5.00" stroke-linecap="butt" stroke-linejoin="miter"/>
<path d="M214.40,1245.48 L226.10,1245.48" fill="none" stroke="#DC2430" stroke-width="5.00" stroke-linecap="butt" stroke-linejoin="miter"/>
<path d="M230.70,1248.27 L240.00,1248.27" fill="none" stroke="#DC2430" stroke-width="5.00" stroke-linecap="butt" stroke-linejoin="miter"/>
<path d="M244.70,1248.27 L261.00,1248.27" fill="none" stroke="#DC2430" stroke-width="5.00" stroke-linecap="butt" stroke-linejoin="miter"/>
<path d="M265.60,1251.06 L274.90,1251.06" fill="none" stroke="#DC2430" stroke-width="5.00" stroke-linecap="butt" stroke-linejoin="miter"/>
<path d="M281.90,1251.06 L295.90,1251.06" fill="none" stroke="#DC2430" stroke-width="5.00" stroke-linecap="butt" stroke-linejoin="miter"/>
<path d="M309.80,1251.06 L323.80,1251.06" fill="none" stroke="#DC2430" stroke-width="5.00" stroke-linecap="butt" stroke-linejoin="miter"/>
<rect x="475.20" y="1227.40" width="311.20" height="272.80" fill="none" stroke="#000" stroke-width="2.00"/>
<path d="M475.20,1239.50H469.20 M475.20,1300.60H469.20 M475.20,1363.80H469.20 M475.20,1425.00H469.20 M475.20,1488.20H469.20 M490.10,1500.20V1506.20 M563.60,1500.20V1506.20 M637.90,1500.20V1506.20 M712.10,1500.20V1506.20 M786.40,1500.20V1506.20" stroke="#000" stroke-width="1.80" fill="none"/>
<text x="493.94" y="1446.70" font-size="21.10" font-weight="bold" fill="#000" stroke="#000" stroke-width="0.25" textLength="219.83" lengthAdjust="spacingAndGlyphs" xml:space="preserve"><tspan>HR = 0.43 (0.19 − 0.97)</tspan></text>
<text x="493.95" y="1477.80" font-size="21.10" font-weight="bold" fill="#000" stroke="#000" stroke-width="0.25" textLength="184.45" lengthAdjust="spacingAndGlyphs" xml:space="preserve"><tspan>LogRank </tspan><tspan font-style="italic">P</tspan><tspan> = 0.064</tspan></text>
<polyline points="487.80,1238.96 495.94,1238.96 495.94,1242.45 502.93,1242.45 502.93,1247.11 509.91,1247.11 509.91,1248.27 528.53,1248.27 528.53,1250.60 535.51,1250.60 535.51,1252.93 544.82,1252.93 544.82,1255.25 554.12,1255.25 554.12,1257.58 575.07,1257.58 575.07,1259.91 584.38,1259.91 584.38,1261.07 649.54,1261.07 649.54,1262.24 649.54,1262.24 649.54,1266.89 757.76,1266.89 757.76,1266.89" fill="none" stroke="#000" stroke-width="1.80" stroke-linejoin="miter" />
<path d="M488.96,1235.21v7.50 M485.96,1238.96h6.00 M493.62,1235.21v7.50 M490.62,1238.96h6.00 M497.11,1238.70v7.50 M494.11,1242.45h6.00 M505.25,1243.36v7.50 M502.25,1247.11h6.00 M512.24,1244.52v7.50 M509.24,1248.27h6.00 M520.38,1244.52v7.50 M517.38,1248.27h6.00 M529.69,1246.85v7.50 M526.69,1250.60h6.00 M537.26,1249.18v7.50 M534.26,1252.93h6.00 M539.86,1249.18v7.50 M536.86,1252.93h6.00 M541.78,1249.18v7.50 M538.78,1252.93h6.00 M543.57,1249.18v7.50 M540.57,1252.93h6.00 M545.24,1251.50v7.50 M542.24,1255.25h6.00 M547.90,1251.50v7.50 M544.90,1255.25h6.00 M549.89,1251.50v7.50 M546.89,1255.25h6.00 M551.52,1251.50v7.50 M548.52,1255.25h6.00 M553.49,1251.50v7.50 M550.49,1255.25h6.00 M555.15,1253.83v7.50 M552.15,1257.58h6.00 M568.50,1253.83v7.50 M565.50,1257.58h6.00 M570.99,1253.83v7.50 M567.99,1257.58h6.00 M573.28,1253.83v7.50 M570.28,1257.58h6.00 M574.69,1253.83v7.50 M571.69,1257.58h6.00 M577.61,1256.16v7.50 M574.61,1259.91h6.00 M578.96,1256.16v7.50 M575.96,1259.91h6.00 M581.00,1256.16v7.50 M578.00,1259.91h6.00 M582.80,1256.16v7.50 M579.80,1259.91h6.00 M586.46,1257.32v7.50 M583.46,1261.07h6.00 M588.66,1257.32v7.50 M585.66,1261.07h6.00 M591.48,1257.32v7.50 M588.48,1261.07h6.00 M593.68,1257.32v7.50 M590.68,1261.07h6.00 M595.38,1257.32v7.50 M592.38,1261.07h6.00 M598.45,1257.32v7.50 M595.45,1261.07h6.00 M601.32,1257.32v7.50 M598.32,1261.07h6.00 M603.33,1257.32v7.50 M600.33,1261.07h6.00 M607.24,1257.32v7.50 M604.24,1261.07h6.00 M608.93,1257.32v7.50 M605.93,1261.07h6.00 M611.21,1257.32v7.50 M608.21,1261.07h6.00 M614.85,1257.32v7.50 M611.85,1261.07h6.00 M616.37,1257.32v7.50 M613.37,1261.07h6.00 M620.24,1257.32v7.50 M617.24,1261.07h6.00 M622.10,1257.32v7.50 M619.10,1261.07h6.00 M624.86,1257.32v7.50 M621.86,1261.07h6.00 M627.14,1257.32v7.50 M624.14,1261.07h6.00 M629.97,1257.32v7.50 M626.97,1261.07h6.00 M632.11,1257.32v7.50 M629.11,1261.07h6.00 M634.48,1257.32v7.50 M631.48,1261.07h6.00 M638.38,1257.32v7.50 M635.38,1261.07h6.00 M640.00,1257.32v7.50 M637.00,1261.07h6.00 M643.46,1257.32v7.50 M640.46,1261.07h6.00 M645.17,1257.32v7.50 M642.17,1261.07h6.00 M648.97,1257.32v7.50 M645.97,1261.07h6.00 M653.87,1263.14v7.50 M650.87,1266.89h6.00 M656.36,1263.14v7.50 M653.36,1266.89h6.00 M659.08,1263.14v7.50 M656.08,1266.89h6.00 M661.50,1263.14v7.50 M658.50,1266.89h6.00 M664.46,1263.14v7.50 M661.46,1266.89h6.00 M666.19,1263.14v7.50 M663.19,1266.89h6.00 M672.81,1263.14v7.50 M669.81,1266.89h6.00 M677.47,1263.14v7.50 M674.47,1266.89h6.00 M682.12,1263.14v7.50 M679.12,1266.89h6.00 M692.56,1263.14v7.50 M689.56,1266.89h6.00 M695.38,1263.14v7.50 M692.38,1266.89h6.00 M696.83,1263.14v7.50 M693.83,1266.89h6.00 M700.17,1263.14v7.50 M697.17,1266.89h6.00 M704.23,1263.14v7.50 M701.23,1266.89h6.00 M716.24,1263.14v7.50 M713.24,1266.89h6.00 M717.73,1263.14v7.50 M714.73,1266.89h6.00 M719.77,1263.14v7.50 M716.77,1266.89h6.00 M721.97,1263.14v7.50 M718.97,1266.89h6.00 M723.98,1263.14v7.50 M720.98,1266.89h6.00 M734.48,1263.14v7.50 M731.48,1266.89h6.00 M740.30,1263.14v7.50 M737.30,1266.89h6.00 M744.96,1263.14v7.50 M741.96,1266.89h6.00 M757.76,1263.14v7.50 M754.76,1266.89h6.00" stroke="#000" stroke-width="1.50" fill="none"/>
<path d="M536.70,1252.93 L544.82,1252.93 L544.82,1255.25 L554.12,1255.25 L554.12,1257.58 L556.50,1257.58" fill="none" stroke="#000" stroke-width="5.00" stroke-linecap="butt" stroke-linejoin="miter"/>
<path d="M568.10,1257.58 L575.07,1257.58 L575.07,1259.91 L584.38,1259.91 L584.38,1261.07 L584.40,1261.07" fill="none" stroke="#000" stroke-width="5.00" stroke-linecap="butt" stroke-linejoin="miter"/>
<path d="M584.40,1261.07 L649.50,1261.07" fill="none" stroke="#000" stroke-width="5.00" stroke-linecap="butt" stroke-linejoin="miter"/>
<path d="M691.40,1266.89 L700.70,1266.89" fill="none" stroke="#000" stroke-width="5.00" stroke-linecap="butt" stroke-linejoin="miter"/>
<path d="M714.70,1266.89 L725.20,1266.89" fill="none" stroke="#000" stroke-width="5.00" stroke-linecap="butt" stroke-linejoin="miter"/>
<polyline points="487.80,1238.96 498.27,1238.96 498.27,1242.45 582.05,1242.45 582.05,1244.78 584.38,1244.78 584.38,1245.94 616.96,1245.94 616.96,1249.44 619.29,1249.44 619.29,1250.60 765.90,1250.60 765.90,1250.60" fill="none" stroke="#DC2430" stroke-width="1.60" stroke-linejoin="miter" />
<path d="M488.96,1235.21v7.50 M485.96,1238.96h6.00 M491.29,1235.21v7.50 M488.29,1238.96h6.00 M505.25,1238.70v7.50 M502.25,1242.45h6.00 M513.40,1238.70v7.50 M510.40,1242.45h6.00 M520.38,1238.70v7.50 M517.38,1242.45h6.00 M527.36,1238.70v7.50 M524.36,1242.45h6.00 M535.70,1238.70v7.50 M532.70,1242.45h6.00 M536.59,1238.70v7.50 M533.59,1242.45h6.00 M538.21,1238.70v7.50 M535.21,1242.45h6.00 M540.97,1238.70v7.50 M537.97,1242.45h6.00 M541.87,1238.70v7.50 M538.87,1242.45h6.00 M543.55,1238.70v7.50 M540.55,1242.45h6.00 M555.04,1238.70v7.50 M552.04,1242.45h6.00 M556.31,1238.70v7.50 M553.31,1242.45h6.00 M558.37,1238.70v7.50 M555.37,1242.45h6.00 M568.88,1238.70v7.50 M565.88,1242.45h6.00 M572.22,1238.70v7.50 M569.22,1242.45h6.00 M573.65,1238.70v7.50 M570.65,1242.45h6.00 M576.37,1238.70v7.50 M573.37,1242.45h6.00 M579.16,1238.70v7.50 M576.16,1242.45h6.00 M581.15,1238.70v7.50 M578.15,1242.45h6.00 M583.81,1241.03v7.50 M580.81,1244.78h6.00 M588.45,1242.19v7.50 M585.45,1245.94h6.00 M590.14,1242.19v7.50 M587.14,1245.94h6.00 M594.33,1242.19v7.50 M591.33,1245.94h6.00 M596.63,1242.19v7.50 M593.63,1245.94h6.00 M598.96,1242.19v7.50 M595.96,1245.94h6.00 M601.55,1242.19v7.50 M598.55,1245.94h6.00 M605.44,1242.19v7.50 M602.44,1245.94h6.00 M607.79,1242.19v7.50 M604.79,1245.94h6.00 M611.18,1242.19v7.50 M608.18,1245.94h6.00 M613.70,1242.19v7.50 M610.70,1245.94h6.00 M619.29,1245.69v7.50 M616.29,1249.44h6.00 M626.27,1246.85v7.50 M623.27,1250.60h6.00 M639.71,1246.85v7.50 M636.71,1250.60h6.00 M641.49,1246.85v7.50 M638.49,1250.60h6.00 M644.00,1246.85v7.50 M641.00,1250.60h6.00 M646.21,1246.85v7.50 M643.21,1250.60h6.00 M656.52,1246.85v7.50 M653.52,1250.60h6.00 M661.18,1246.85v7.50 M658.18,1250.60h6.00 M665.83,1246.85v7.50 M662.83,1250.60h6.00 M673.98,1246.85v7.50 M670.98,1250.60h6.00 M679.79,1246.85v7.50 M676.79,1250.60h6.00 M701.36,1246.85v7.50 M698.36,1250.60h6.00 M703.84,1246.85v7.50 M700.84,1250.60h6.00 M704.91,1246.85v7.50 M701.91,1250.60h6.00 M707.14,1246.85v7.50 M704.14,1250.60h6.00 M710.05,1246.85v7.50 M707.05,1250.60h6.00 M712.37,1246.85v7.50 M709.37,1250.60h6.00 M718.19,1246.85v7.50 M715.19,1250.60h6.00 M723.75,1246.85v7.50 M720.75,1250.60h6.00 M724.70,1246.85v7.50 M721.70,1250.60h6.00 M725.51,1246.85v7.50 M722.51,1250.60h6.00 M736.86,1246.85v7.50 M733.86,1250.60h6.00 M738.44,1246.85v7.50 M735.44,1250.60h6.00 M756.59,1246.85v7.50 M753.59,1250.60h6.00 M762.41,1246.85v7.50 M759.41,1250.60h6.00" stroke="#DC2430" stroke-width="1.50" fill="none"/>
<path d="M534.30,1242.45 L544.80,1242.45" fill="none" stroke="#DC2430" stroke-width="5.00" stroke-linecap="butt" stroke-linejoin="miter"/>
<path d="M568.10,1242.45 L582.05,1242.45 L582.05,1244.78 L584.38,1244.78 L584.38,1245.94 L584.40,1245.94" fill="none" stroke="#DC2430" stroke-width="5.00" stroke-linecap="butt" stroke-linejoin="miter"/>
<path d="M586.70,1245.94 L614.60,1245.94" fill="none" stroke="#DC2430" stroke-width="5.00" stroke-linecap="butt" stroke-linejoin="miter"/>
<path d="M637.90,1250.60 L647.20,1250.60" fill="none" stroke="#DC2430" stroke-width="5.00" stroke-linecap="butt" stroke-linejoin="miter"/>
<path d="M700.70,1250.60 L707.70,1250.60" fill="none" stroke="#DC2430" stroke-width="5.00" stroke-linecap="butt" stroke-linejoin="miter"/>
<rect x="828.80" y="1229.90" width="311.50" height="272.40" fill="none" stroke="#000" stroke-width="2.00"/>
<path d="M828.80,1241.90H822.80 M828.80,1303.80H822.80 M828.80,1365.70H822.80 M828.80,1427.60H822.80 M828.80,1489.50H822.80 M841.90,1502.30V1508.30 M915.00,1502.30V1508.30 M987.70,1502.30V1508.30 M1061.60,1502.30V1508.30 M1133.50,1502.30V1508.30" stroke="#000" stroke-width="1.80" fill="none"/>
<text x="852.54" y="1451.60" font-size="21.10" font-weight="bold" fill="#000" stroke="#000" stroke-width="0.25" textLength="220.03" lengthAdjust="spacingAndGlyphs" xml:space="preserve"><tspan>HR = 0.36 (0.16 − 0.82)</tspan></text>
<text x="852.54" y="1482.30" font-size="21.10" font-weight="bold" fill="#000" stroke="#000" stroke-width="0.25" textLength="185.16" lengthAdjust="spacingAndGlyphs" xml:space="preserve"><tspan>LogRank </tspan><tspan font-style="italic">P</tspan><tspan> = 0.014</tspan></text>
<polyline points="839.47,1241.80 848.78,1241.80 848.78,1245.29 852.27,1245.29 852.27,1249.94 859.25,1249.94 859.25,1253.44 887.18,1253.44 887.18,1254.60 896.49,1254.60 896.49,1256.93 905.80,1256.93 905.80,1260.42 910.45,1260.42 910.45,1261.58 931.40,1261.58 931.40,1263.91 938.38,1263.91 938.38,1266.24 952.34,1266.24 952.34,1268.56 1001.21,1268.56 1001.21,1270.89 1003.54,1270.89 1003.54,1275.54 1110.59,1275.54 1110.59,1275.54" fill="none" stroke="#000" stroke-width="1.80" stroke-linejoin="miter" />
<path d="M841.80,1238.05v7.50 M838.80,1241.80h6.00 M845.29,1238.05v7.50 M842.29,1241.80h6.00 M856.93,1246.19v7.50 M853.93,1249.94h6.00 M872.05,1249.69v7.50 M869.05,1253.44h6.00 M880.20,1249.69v7.50 M877.20,1253.44h6.00 M889.75,1250.85v7.50 M886.75,1254.60h6.00 M890.98,1250.85v7.50 M887.98,1254.60h6.00 M892.34,1250.85v7.50 M889.34,1254.60h6.00 M893.71,1250.85v7.50 M890.71,1254.60h6.00 M896.82,1253.18v7.50 M893.82,1256.93h6.00 M897.96,1253.18v7.50 M894.96,1256.93h6.00 M899.21,1253.18v7.50 M896.21,1256.93h6.00 M900.74,1253.18v7.50 M897.74,1256.93h6.00 M901.48,1253.18v7.50 M898.48,1256.93h6.00 M903.06,1253.18v7.50 M900.06,1256.93h6.00 M904.17,1253.18v7.50 M901.17,1256.93h6.00 M904.96,1253.18v7.50 M901.96,1256.93h6.00 M906.40,1256.67v7.50 M903.40,1260.42h6.00 M907.51,1256.67v7.50 M904.51,1260.42h6.00 M920.63,1257.83v7.50 M917.63,1261.58h6.00 M923.25,1257.83v7.50 M920.25,1261.58h6.00 M924.14,1257.83v7.50 M921.14,1261.58h6.00 M925.99,1257.83v7.50 M922.99,1261.58h6.00 M929.00,1257.83v7.50 M926.00,1261.58h6.00 M930.31,1257.83v7.50 M927.31,1261.58h6.00 M931.84,1260.16v7.50 M928.84,1263.91h6.00 M933.35,1260.16v7.50 M930.35,1263.91h6.00 M934.77,1260.16v7.50 M931.77,1263.91h6.00 M936.67,1260.16v7.50 M933.67,1263.91h6.00 M937.44,1260.16v7.50 M934.44,1263.91h6.00 M938.76,1262.49v7.50 M935.76,1266.24h6.00 M940.18,1262.49v7.50 M937.18,1266.24h6.00 M941.32,1262.49v7.50 M938.32,1266.24h6.00 M942.77,1262.49v7.50 M939.77,1266.24h6.00 M943.85,1262.49v7.50 M940.85,1266.24h6.00 M944.68,1262.49v7.50 M941.68,1266.24h6.00 M945.74,1262.49v7.50 M942.74,1266.24h6.00 M947.34,1262.49v7.50 M944.34,1266.24h6.00 M948.61,1262.49v7.50 M945.61,1266.24h6.00 M949.10,1262.49v7.50 M946.10,1266.24h6.00 M950.76,1262.49v7.50 M947.76,1266.24h6.00 M952.02,1262.49v7.50 M949.02,1266.24h6.00 M953.03,1264.81v7.50 M950.03,1268.56h6.00 M953.89,1264.81v7.50 M950.89,1268.56h6.00 M955.46,1264.81v7.50 M952.46,1268.56h6.00 M956.57,1264.81v7.50 M953.57,1268.56h6.00 M957.36,1264.81v7.50 M954.36,1268.56h6.00 M958.84,1264.81v7.50 M955.84,1268.56h6.00 M959.71,1264.81v7.50 M956.71,1268.56h6.00 M960.75,1264.81v7.50 M957.75,1268.56h6.00 M966.89,1264.81v7.50 M963.89,1268.56h6.00 M968.34,1264.81v7.50 M965.34,1268.56h6.00 M969.85,1264.81v7.50 M966.85,1268.56h6.00 M971.52,1264.81v7.50 M968.52,1268.56h6.00 M973.14,1264.81v7.50 M970.14,1268.56h6.00 M974.71,1264.81v7.50 M971.71,1268.56h6.00 M976.18,1264.81v7.50 M973.18,1268.56h6.00 M977.64,1264.81v7.50 M974.64,1268.56h6.00 M981.44,1264.81v7.50 M978.44,1268.56h6.00 M982.68,1264.81v7.50 M979.68,1268.56h6.00 M984.29,1264.81v7.50 M981.29,1268.56h6.00 M986.51,1264.81v7.50 M983.51,1268.56h6.00 M988.17,1264.81v7.50 M985.17,1268.56h6.00 M990.05,1264.81v7.50 M987.05,1268.56h6.00 M991.19,1264.81v7.50 M988.19,1268.56h6.00 M993.04,1264.81v7.50 M990.04,1268.56h6.00 M995.55,1264.81v7.50 M992.55,1268.56h6.00 M996.96,1264.81v7.50 M993.96,1268.56h6.00 M998.80,1264.81v7.50 M995.80,1268.56h6.00 M999.92,1264.81v7.50 M996.92,1268.56h6.00 M1004.36,1271.79v7.50 M1001.36,1275.54h6.00 M1006.79,1271.79v7.50 M1003.79,1275.54h6.00 M1008.36,1271.79v7.50 M1005.36,1275.54h6.00 M1010.61,1271.79v7.50 M1007.61,1275.54h6.00 M1011.58,1271.79v7.50 M1008.58,1275.54h6.00 M1013.73,1271.79v7.50 M1010.73,1275.54h6.00 M1015.98,1271.79v7.50 M1012.98,1275.54h6.00 M1017.44,1271.79v7.50 M1014.44,1275.54h6.00 M1019.69,1271.79v7.50 M1016.69,1275.54h6.00 M1021.30,1271.79v7.50 M1018.30,1275.54h6.00 M1029.14,1271.79v7.50 M1026.14,1275.54h6.00 M1036.12,1271.79v7.50 M1033.12,1275.54h6.00 M1045.90,1271.79v7.50 M1042.90,1275.54h6.00 M1047.63,1271.79v7.50 M1044.63,1275.54h6.00 M1050.30,1271.79v7.50 M1047.30,1275.54h6.00 M1051.14,1271.79v7.50 M1048.14,1275.54h6.00 M1057.31,1271.79v7.50 M1054.31,1275.54h6.00 M1058.15,1271.79v7.50 M1055.15,1275.54h6.00 M1059.10,1271.79v7.50 M1056.10,1275.54h6.00 M1067.37,1271.79v7.50 M1064.37,1275.54h6.00 M1068.45,1271.79v7.50 M1065.45,1275.54h6.00 M1069.86,1271.79v7.50 M1066.86,1275.54h6.00 M1071.50,1271.79v7.50 M1068.50,1275.54h6.00 M1072.47,1271.79v7.50 M1069.47,1275.54h6.00 M1078.01,1271.79v7.50 M1075.01,1275.54h6.00 M1087.32,1271.79v7.50 M1084.32,1275.54h6.00 M1094.30,1271.79v7.50 M1091.30,1275.54h6.00 M1098.96,1271.79v7.50 M1095.96,1275.54h6.00 M1108.26,1271.79v7.50 M1105.26,1275.54h6.00" stroke="#000" stroke-width="1.50" fill="none"/>
<path d="M896.50,1256.93 L905.80,1256.93 L905.80,1260.42 L908.10,1260.42" fill="none" stroke="#000" stroke-width="5.00" stroke-linecap="butt" stroke-linejoin="miter"/>
<path d="M938.40,1266.24 L952.30,1266.24" fill="none" stroke="#000" stroke-width="5.00" stroke-linecap="butt" stroke-linejoin="miter"/>
<path d="M952.30,1266.24 L952.34,1266.24 L952.34,1268.56 L961.70,1268.56" fill="none" stroke="#000" stroke-width="5.00" stroke-linecap="butt" stroke-linejoin="miter"/>
<path d="M966.30,1268.56 L977.90,1268.56" fill="none" stroke="#000" stroke-width="5.00" stroke-linecap="butt" stroke-linejoin="miter"/>
<path d="M980.30,1268.56 L1001.20,1268.56" fill="none" stroke="#000" stroke-width="5.00" stroke-linecap="butt" stroke-linejoin="miter"/>
<path d="M1003.50,1270.89 L1003.54,1270.89 L1003.54,1275.54 L1022.20,1275.54" fill="none" stroke="#000" stroke-width="5.00" stroke-linecap="butt" stroke-linejoin="miter"/>
<polyline points="839.47,1241.80 849.94,1241.80 849.94,1245.29 875.54,1245.29 875.54,1247.62 898.82,1247.62 898.82,1249.48 970.96,1249.48 970.96,1252.27 1118.74,1252.27 1118.74,1252.27" fill="none" stroke="#DC2430" stroke-width="1.60" stroke-linejoin="miter" />
<path d="M841.80,1238.05v7.50 M838.80,1241.80h6.00 M846.45,1238.05v7.50 M843.45,1241.80h6.00 M865.07,1241.54v7.50 M862.07,1245.29h6.00 M872.05,1241.54v7.50 M869.05,1245.29h6.00 M877.87,1243.87v7.50 M874.87,1247.62h6.00 M882.53,1243.87v7.50 M879.53,1247.62h6.00 M888.60,1243.87v7.50 M885.60,1247.62h6.00 M889.73,1243.87v7.50 M886.73,1247.62h6.00 M890.84,1243.87v7.50 M887.84,1247.62h6.00 M892.26,1243.87v7.50 M889.26,1247.62h6.00 M893.05,1243.87v7.50 M890.05,1247.62h6.00 M894.24,1243.87v7.50 M891.24,1247.62h6.00 M894.90,1243.87v7.50 M891.90,1247.62h6.00 M896.20,1243.87v7.50 M893.20,1247.62h6.00 M897.46,1243.87v7.50 M894.46,1247.62h6.00 M898.31,1243.87v7.50 M895.31,1247.62h6.00 M905.26,1245.73v7.50 M902.26,1249.48h6.00 M907.49,1245.73v7.50 M904.49,1249.48h6.00 M909.11,1245.73v7.50 M906.11,1249.48h6.00 M910.92,1245.73v7.50 M907.92,1249.48h6.00 M921.03,1245.73v7.50 M918.03,1249.48h6.00 M922.24,1245.73v7.50 M919.24,1249.48h6.00 M924.04,1245.73v7.50 M921.04,1249.48h6.00 M926.82,1245.73v7.50 M923.82,1249.48h6.00 M928.89,1245.73v7.50 M925.89,1249.48h6.00 M930.82,1245.73v7.50 M927.82,1249.48h6.00 M935.70,1245.73v7.50 M932.70,1249.48h6.00 M936.27,1245.73v7.50 M933.27,1249.48h6.00 M937.24,1245.73v7.50 M934.24,1249.48h6.00 M938.31,1245.73v7.50 M935.31,1249.48h6.00 M939.90,1245.73v7.50 M936.90,1249.48h6.00 M940.40,1245.73v7.50 M937.40,1249.48h6.00 M941.48,1245.73v7.50 M938.48,1249.48h6.00 M942.44,1245.73v7.50 M939.44,1249.48h6.00 M943.51,1245.73v7.50 M940.51,1249.48h6.00 M944.55,1245.73v7.50 M941.55,1249.48h6.00 M948.85,1245.73v7.50 M945.85,1249.48h6.00 M952.34,1245.73v7.50 M949.34,1249.48h6.00 M956.49,1245.73v7.50 M953.49,1249.48h6.00 M957.91,1245.73v7.50 M954.91,1249.48h6.00 M959.65,1245.73v7.50 M956.65,1249.48h6.00 M961.84,1245.73v7.50 M958.84,1249.48h6.00 M962.71,1245.73v7.50 M959.71,1249.48h6.00 M964.93,1245.73v7.50 M961.93,1249.48h6.00 M966.46,1245.73v7.50 M963.46,1249.48h6.00 M967.90,1245.73v7.50 M964.90,1249.48h6.00 M972.84,1248.52v7.50 M969.84,1252.27h6.00 M974.30,1248.52v7.50 M971.30,1252.27h6.00 M975.46,1248.52v7.50 M972.46,1252.27h6.00 M976.49,1248.52v7.50 M973.49,1252.27h6.00 M977.88,1248.52v7.50 M974.88,1252.27h6.00 M979.12,1248.52v7.50 M976.12,1252.27h6.00 M980.55,1248.52v7.50 M977.55,1252.27h6.00 M982.32,1248.52v7.50 M979.32,1252.27h6.00 M987.78,1248.52v7.50 M984.78,1252.27h6.00 M988.69,1248.52v7.50 M985.69,1252.27h6.00 M990.14,1248.52v7.50 M987.14,1252.27h6.00 M991.54,1248.52v7.50 M988.54,1252.27h6.00 M992.45,1248.52v7.50 M989.45,1252.27h6.00 M993.79,1248.52v7.50 M990.79,1252.27h6.00 M994.53,1248.52v7.50 M991.53,1252.27h6.00 M995.67,1248.52v7.50 M992.67,1252.27h6.00 M997.25,1248.52v7.50 M994.25,1252.27h6.00 M997.99,1248.52v7.50 M994.99,1252.27h6.00 M999.33,1248.52v7.50 M996.33,1252.27h6.00 M1000.55,1248.52v7.50 M997.55,1252.27h6.00 M1001.58,1248.52v7.50 M998.58,1252.27h6.00 M1002.63,1248.52v7.50 M999.63,1252.27h6.00 M1007.39,1248.52v7.50 M1004.39,1252.27h6.00 M1010.12,1248.52v7.50 M1007.12,1252.27h6.00 M1011.59,1248.52v7.50 M1008.59,1252.27h6.00 M1013.61,1248.52v7.50 M1010.61,1252.27h6.00 M1020.98,1248.52v7.50 M1017.98,1252.27h6.00 M1023.96,1248.52v7.50 M1020.96,1252.27h6.00 M1026.16,1248.52v7.50 M1023.16,1252.27h6.00 M1032.35,1248.52v7.50 M1029.35,1252.27h6.00 M1033.82,1248.52v7.50 M1030.82,1252.27h6.00 M1035.35,1248.52v7.50 M1032.35,1252.27h6.00 M1046.59,1248.52v7.50 M1043.59,1252.27h6.00 M1054.10,1248.52v7.50 M1051.10,1252.27h6.00 M1055.79,1248.52v7.50 M1052.79,1252.27h6.00 M1057.66,1248.52v7.50 M1054.66,1252.27h6.00 M1062.09,1248.52v7.50 M1059.09,1252.27h6.00 M1063.71,1248.52v7.50 M1060.71,1252.27h6.00 M1064.64,1248.52v7.50 M1061.64,1252.27h6.00 M1065.87,1248.52v7.50 M1062.87,1252.27h6.00 M1072.04,1248.52v7.50 M1069.04,1252.27h6.00 M1073.34,1248.52v7.50 M1070.34,1252.27h6.00 M1074.35,1248.52v7.50 M1071.35,1252.27h6.00 M1075.90,1248.52v7.50 M1072.90,1252.27h6.00 M1088.79,1248.52v7.50 M1085.79,1252.27h6.00 M1090.37,1248.52v7.50 M1087.37,1252.27h6.00 M1092.78,1248.52v7.50 M1089.78,1252.27h6.00 M1110.59,1248.52v7.50 M1107.59,1252.27h6.00 M1117.57,1248.52v7.50 M1114.57,1252.27h6.00" stroke="#DC2430" stroke-width="1.50" fill="none"/>
<path d="M888.30,1247.62 L898.80,1247.62" fill="none" stroke="#DC2430" stroke-width="5.00" stroke-linecap="butt" stroke-linejoin="miter"/>
<path d="M934.90,1249.48 L945.40,1249.48" fill="none" stroke="#DC2430" stroke-width="5.00" stroke-linecap="butt" stroke-linejoin="miter"/>
<path d="M955.80,1249.48 L968.60,1249.48" fill="none" stroke="#DC2430" stroke-width="5.00" stroke-linecap="butt" stroke-linejoin="miter"/>
<path d="M972.10,1252.27 L982.60,1252.27" fill="none" stroke="#DC2430" stroke-width="5.00" stroke-linecap="butt" stroke-linejoin="miter"/>
<path d="M987.20,1252.27 L1003.50,1252.27" fill="none" stroke="#DC2430" stroke-width="5.00" stroke-linecap="butt" stroke-linejoin="miter"/>
<text x="128.84" y="1529.60" font-size="24.00" font-weight="bold" fill="#000" stroke="#000" stroke-width="0.25" textLength="13.35" lengthAdjust="spacingAndGlyphs" xml:space="preserve"><tspan>0</tspan></text>
<text x="268.98" y="1529.60" font-size="24.00" font-weight="bold" fill="#000" stroke="#000" stroke-width="0.25" textLength="26.70" lengthAdjust="spacingAndGlyphs" xml:space="preserve"><tspan>40</tspan></text>
<text x="416.20" y="1529.60" font-size="24.00" font-weight="bold" fill="#000" stroke="#000" stroke-width="0.25" textLength="26.70" lengthAdjust="spacingAndGlyphs" xml:space="preserve"><tspan>80</tspan></text>
<text x="484.34" y="1529.60" font-size="24.00" font-weight="bold" fill="#000" stroke="#000" stroke-width="0.25" textLength="13.35" lengthAdjust="spacingAndGlyphs" xml:space="preserve"><tspan>0</tspan></text>
<text x="624.78" y="1529.60" font-size="24.00" font-weight="bold" fill="#000" stroke="#000" stroke-width="0.25" textLength="26.70" lengthAdjust="spacingAndGlyphs" xml:space="preserve"><tspan>40</tspan></text>
<text x="772.20" y="1529.60" font-size="24.00" font-weight="bold" fill="#000" stroke="#000" stroke-width="0.25" textLength="26.70" lengthAdjust="spacingAndGlyphs" xml:space="preserve"><tspan>80</tspan></text>
<text x="836.34" y="1529.50" font-size="24.00" font-weight="bold" fill="#000" stroke="#000" stroke-width="0.25" textLength="13.35" lengthAdjust="spacingAndGlyphs" xml:space="preserve"><tspan>0</tspan></text>
<text x="975.68" y="1529.50" font-size="24.00" font-weight="bold" fill="#000" stroke="#000" stroke-width="0.25" textLength="26.70" lengthAdjust="spacingAndGlyphs" xml:space="preserve"><tspan>40</tspan></text>
<text x="1123.50" y="1529.50" font-size="24.00" font-weight="bold" fill="#000" stroke="#000" stroke-width="0.25" textLength="26.70" lengthAdjust="spacingAndGlyphs" xml:space="preserve"><tspan>80</tspan></text>
<text x="545.01" y="1564.10" font-size="28.55" font-weight="bold" fill="#000" stroke="#000" stroke-width="0.25" textLength="200.23" lengthAdjust="spacingAndGlyphs" xml:space="preserve"><tspan>Time (months)</tspan></text>
<text x="1166.51" y="1248.60" font-size="28.55" font-weight="bold" fill="#000" stroke="#000" stroke-width="0.25" textLength="156.67" lengthAdjust="spacingAndGlyphs" xml:space="preserve"><tspan>Expression</tspan></text>
<line x1="1169.00" y1="1272.50" x2="1192.00" y2="1272.50" stroke="#DC2430" stroke-width="1.80" />
<text x="1203.42" y="1278.90" font-size="23.17" font-weight="bold" fill="#000" stroke="#000" stroke-width="0.25" textLength="53.72" lengthAdjust="spacingAndGlyphs" xml:space="preserve"><tspan>high</tspan></text>
<line x1="1169.00" y1="1299.60" x2="1192.00" y2="1299.60" stroke="#000" stroke-width="1.80" />
<text x="1206.05" y="1306.00" font-size="23.03" font-weight="bold" fill="#000" stroke="#000" stroke-width="0.25" textLength="41.66" lengthAdjust="spacingAndGlyphs" xml:space="preserve"><tspan>low</tspan></text>
<text x="4.40" y="1600.60" font-size="38.33" font-weight="bold" fill="#000" stroke="#000" stroke-width="0.25" textLength="20.86" lengthAdjust="spacingAndGlyphs" xml:space="preserve"><tspan>e</tspan></text>
<text transform="translate(22.30 1921.87) rotate(-90)" x="0" y="0" font-size="29.66" font-weight="bold" fill="#000" stroke="#000" stroke-width="0.25" textLength="295.54" lengthAdjust="spacingAndGlyphs" xml:space="preserve"><tspan>ChrY signature score</tspan></text>
<path d="M120.80,1634.60V1923.20H402.00 M120.80,1696.20H111.30 M120.80,1758.60H111.30 M120.80,1821.30H111.30 M120.80,1883.70H111.30 M197.10,1923.20V1932.70 M324.80,1923.20V1932.70" stroke="#000" stroke-width="1.8" fill="none"/>
<text x="57.90" y="1703.60" font-size="25.57" font-weight="bold" fill="#000" stroke="#000" stroke-width="0.25" textLength="48.63" lengthAdjust="spacingAndGlyphs" xml:space="preserve"><tspan>0.50</tspan></text>
<text x="57.91" y="1766.00" font-size="25.57" font-weight="bold" fill="#000" stroke="#000" stroke-width="0.25" textLength="48.24" lengthAdjust="spacingAndGlyphs" xml:space="preserve"><tspan>0.25</tspan></text>
<text x="57.90" y="1828.70" font-size="25.57" font-weight="bold" fill="#000" stroke="#000" stroke-width="0.25" textLength="48.63" lengthAdjust="spacingAndGlyphs" xml:space="preserve"><tspan>0.00</tspan></text>
<text x="43.41" y="1891.10" font-size="25.57" font-weight="bold" fill="#000" stroke="#000" stroke-width="0.25" textLength="62.72" lengthAdjust="spacingAndGlyphs" xml:space="preserve"><tspan>−0.25</tspan></text>
<text x="203.81" y="1622.00" font-size="22.43" font-weight="bold" fill="#000" stroke="#000" stroke-width="0.25" textLength="127.99" lengthAdjust="spacingAndGlyphs" xml:space="preserve"><tspan font-style="italic">P</tspan><tspan> = 2.8e-31</tspan></text>
<path d="M197.1,1644.1 V1635.3 H325.7 V1644.1" fill="none" stroke="#000" stroke-width="1.80" />
<text x="147.94" y="1966.70" font-size="28.84" font-weight="bold" fill="#000" stroke="#000" stroke-width="0.25" textLength="104.85" lengthAdjust="spacingAndGlyphs" xml:space="preserve"><tspan>No EDY</tspan></text>
<text x="292.98" y="1966.70" font-size="28.84" font-weight="bold" fill="#000" stroke="#000" stroke-width="0.25" textLength="57.47" lengthAdjust="spacingAndGlyphs" xml:space="preserve"><tspan>EDY</tspan></text>
<path d="M149.10,1727.20 H245.90 V1738.80 L228.10,1742.10 L245.90,1745.60 V1756.60 H149.10 V1745.60 L166.90,1742.10 L149.10,1738.80 Z" fill="#8E99D5" stroke="#000" stroke-width="1.6" stroke-linejoin="miter"/>
<line x1="166.90" y1="1742.10" x2="228.10" y2="1742.10" stroke="#000" stroke-width="1.60" />
<line x1="197.10" y1="1694.50" x2="197.10" y2="1727.20" stroke="#000" stroke-width="1.60" />
<line x1="197.10" y1="1756.60" x2="197.10" y2="1803.30" stroke="#000" stroke-width="1.60" />
<path d="M277.30,1805.00 H374.20 V1818.60 L352.20,1827.30 L374.20,1836.00 V1854.70 H277.30 V1836.00 L299.20,1827.30 L277.30,1818.60 Z" fill="#C56F6B" stroke="#000" stroke-width="1.6" stroke-linejoin="miter"/>
<line x1="299.20" y1="1827.30" x2="352.20" y2="1827.30" stroke="#000" stroke-width="1.60" />
<line x1="325.30" y1="1749.70" x2="325.30" y2="1805.00" stroke="#000" stroke-width="1.60" />
<line x1="325.30" y1="1854.70" x2="325.30" y2="1905.80" stroke="#000" stroke-width="1.60" />
<g fill="#7380C8" stroke="#0d0d1a" stroke-width="1.9"><circle cx="207.30" cy="1659.50" r="4.00"/><circle cx="202.00" cy="1665.80" r="4.00"/><circle cx="209.40" cy="1693.10" r="4.00"/><circle cx="210.40" cy="1696.20" r="4.00"/><circle cx="185.20" cy="1705.10" r="4.00"/><circle cx="188.80" cy="1701.50" r="4.00"/><circle cx="203.10" cy="1699.40" r="4.00"/><circle cx="205.60" cy="1703.60" r="4.00"/><circle cx="208.30" cy="1711.00" r="4.00"/><circle cx="189.40" cy="1711.00" r="4.00"/><circle cx="194.70" cy="1715.20" r="4.00"/><circle cx="189.65" cy="1752.94" r="4.00"/><circle cx="210.80" cy="1778.67" r="4.00"/><circle cx="203.24" cy="1745.30" r="4.00"/><circle cx="190.43" cy="1728.37" r="4.00"/><circle cx="204.08" cy="1733.33" r="4.00"/><circle cx="212.16" cy="1728.23" r="4.00"/><circle cx="189.61" cy="1718.71" r="4.00"/><circle cx="206.33" cy="1719.95" r="4.00"/><circle cx="197.68" cy="1738.56" r="4.00"/><circle cx="202.49" cy="1735.84" r="4.00"/><circle cx="190.04" cy="1741.06" r="4.00"/><circle cx="192.82" cy="1742.82" r="4.00"/><circle cx="207.88" cy="1721.42" r="4.00"/><circle cx="203.28" cy="1759.57" r="4.00"/><circle cx="195.44" cy="1773.12" r="4.00"/><circle cx="196.27" cy="1739.41" r="4.00"/><circle cx="203.40" cy="1741.11" r="4.00"/><circle cx="197.46" cy="1714.44" r="4.00"/><circle cx="194.02" cy="1749.85" r="4.00"/><circle cx="204.43" cy="1715.47" r="4.00"/><circle cx="200.37" cy="1714.63" r="4.00"/><circle cx="185.00" cy="1724.28" r="4.00"/><circle cx="185.91" cy="1726.12" r="4.00"/><circle cx="203.86" cy="1724.10" r="4.00"/><circle cx="194.52" cy="1762.79" r="4.00"/><circle cx="197.78" cy="1757.71" r="4.00"/><circle cx="209.40" cy="1747.40" r="4.00"/><circle cx="209.23" cy="1734.86" r="4.00"/><circle cx="203.82" cy="1760.30" r="4.00"/><circle cx="186.44" cy="1714.40" r="4.00"/><circle cx="194.03" cy="1716.14" r="4.00"/><circle cx="209.40" cy="1777.39" r="4.00"/><circle cx="187.45" cy="1770.18" r="4.00"/><circle cx="206.46" cy="1761.28" r="4.00"/><circle cx="206.97" cy="1768.22" r="4.00"/><circle cx="189.19" cy="1723.40" r="4.00"/><circle cx="205.41" cy="1767.10" r="4.00"/><circle cx="196.95" cy="1773.79" r="4.00"/><circle cx="188.04" cy="1773.60" r="4.00"/><circle cx="209.65" cy="1778.13" r="4.00"/><circle cx="185.96" cy="1736.62" r="4.00"/><circle cx="203.99" cy="1750.75" r="4.00"/><circle cx="185.67" cy="1737.48" r="4.00"/><circle cx="207.91" cy="1732.67" r="4.00"/><circle cx="211.18" cy="1720.07" r="4.00"/><circle cx="189.93" cy="1730.75" r="4.00"/><circle cx="212.45" cy="1721.52" r="4.00"/><circle cx="193.26" cy="1774.37" r="4.00"/><circle cx="202.95" cy="1720.41" r="4.00"/><circle cx="184.35" cy="1773.47" r="4.00"/><circle cx="208.84" cy="1756.41" r="4.00"/><circle cx="200.51" cy="1744.74" r="4.00"/><circle cx="190.92" cy="1767.89" r="4.00"/><circle cx="203.15" cy="1732.31" r="4.00"/><circle cx="199.53" cy="1751.01" r="4.00"/><circle cx="211.17" cy="1736.40" r="4.00"/><circle cx="203.69" cy="1733.31" r="4.00"/><circle cx="195.62" cy="1773.91" r="4.00"/><circle cx="190.39" cy="1717.64" r="4.00"/><circle cx="188.30" cy="1718.44" r="4.00"/><circle cx="193.93" cy="1722.07" r="4.00"/><circle cx="196.97" cy="1738.79" r="4.00"/><circle cx="203.62" cy="1758.56" r="4.00"/><circle cx="194.57" cy="1760.05" r="4.00"/><circle cx="199.94" cy="1758.41" r="4.00"/><circle cx="199.83" cy="1722.54" r="4.00"/><circle cx="203.60" cy="1735.33" r="4.00"/><circle cx="190.98" cy="1763.23" r="4.00"/><circle cx="197.19" cy="1743.15" r="4.00"/><circle cx="185.17" cy="1733.89" r="4.00"/><circle cx="212.79" cy="1717.32" r="4.00"/><circle cx="196.72" cy="1763.58" r="4.00"/><circle cx="191.80" cy="1758.67" r="4.00"/><circle cx="211.57" cy="1761.60" r="4.00"/><circle cx="197.49" cy="1765.81" r="4.00"/><circle cx="185.20" cy="1795.00" r="4.00"/><circle cx="190.50" cy="1802.40" r="4.00"/><circle cx="197.80" cy="1803.50" r="4.00"/><circle cx="207.30" cy="1799.30" r="4.00"/><circle cx="205.80" cy="1795.00" r="4.00"/><circle cx="192.60" cy="1789.80" r="4.00"/><circle cx="199.90" cy="1789.80" r="4.00"/><circle cx="192.60" cy="1783.50" r="4.00"/><circle cx="207.30" cy="1777.20" r="4.00"/><circle cx="199.50" cy="1840.20" r="4.00"/></g>
<g fill="#B24B49" stroke="#0d0d1a" stroke-width="1.9"><circle cx="318.70" cy="1747.80" r="4.00"/><circle cx="314.50" cy="1760.40" r="4.00"/><circle cx="319.70" cy="1758.90" r="4.00"/><circle cx="331.70" cy="1758.30" r="4.00"/><circle cx="328.10" cy="1763.50" r="4.00"/><circle cx="325.00" cy="1764.60" r="4.00"/><circle cx="320.80" cy="1782.90" r="4.00"/><circle cx="327.10" cy="1782.00" r="4.00"/><circle cx="337.60" cy="1782.00" r="4.00"/><circle cx="334.50" cy="1795.00" r="4.00"/><circle cx="338.70" cy="1797.20" r="4.00"/><circle cx="314.50" cy="1801.40" r="4.00"/><circle cx="335.50" cy="1801.40" r="4.00"/><circle cx="329.48" cy="1811.45" r="4.00"/><circle cx="332.38" cy="1812.67" r="4.00"/><circle cx="322.53" cy="1837.65" r="4.00"/><circle cx="327.99" cy="1838.20" r="4.00"/><circle cx="326.90" cy="1805.46" r="4.00"/><circle cx="326.59" cy="1838.32" r="4.00"/><circle cx="333.06" cy="1853.13" r="4.00"/><circle cx="317.81" cy="1824.50" r="4.00"/><circle cx="335.31" cy="1810.30" r="4.00"/><circle cx="329.28" cy="1842.32" r="4.00"/><circle cx="326.03" cy="1828.18" r="4.00"/><circle cx="326.91" cy="1815.66" r="4.00"/><circle cx="329.63" cy="1811.29" r="4.00"/><circle cx="331.11" cy="1838.92" r="4.00"/><circle cx="313.76" cy="1817.05" r="4.00"/><circle cx="331.63" cy="1821.98" r="4.00"/><circle cx="333.43" cy="1832.07" r="4.00"/><circle cx="322.95" cy="1827.57" r="4.00"/><circle cx="316.01" cy="1854.73" r="4.00"/><circle cx="328.66" cy="1814.82" r="4.00"/><circle cx="323.99" cy="1838.99" r="4.00"/><circle cx="324.22" cy="1834.81" r="4.00"/><circle cx="337.66" cy="1841.11" r="4.00"/><circle cx="330.18" cy="1850.03" r="4.00"/><circle cx="339.43" cy="1829.80" r="4.00"/><circle cx="329.77" cy="1828.49" r="4.00"/><circle cx="331.50" cy="1852.50" r="4.00"/><circle cx="333.29" cy="1825.27" r="4.00"/><circle cx="338.45" cy="1837.22" r="4.00"/><circle cx="327.01" cy="1838.52" r="4.00"/><circle cx="326.83" cy="1858.52" r="4.00"/><circle cx="339.13" cy="1825.71" r="4.00"/><circle cx="316.16" cy="1856.81" r="4.00"/><circle cx="336.74" cy="1807.13" r="4.00"/><circle cx="322.53" cy="1853.32" r="4.00"/><circle cx="331.53" cy="1817.52" r="4.00"/><circle cx="317.39" cy="1856.59" r="4.00"/><circle cx="330.88" cy="1828.53" r="4.00"/><circle cx="323.45" cy="1815.59" r="4.00"/><circle cx="325.39" cy="1811.15" r="4.00"/><circle cx="313.42" cy="1816.11" r="4.00"/><circle cx="315.51" cy="1825.18" r="4.00"/><circle cx="315.52" cy="1809.77" r="4.00"/><circle cx="320.54" cy="1826.81" r="4.00"/><circle cx="323.43" cy="1844.51" r="4.00"/><circle cx="316.64" cy="1816.86" r="4.00"/><circle cx="333.30" cy="1819.94" r="4.00"/><circle cx="324.96" cy="1814.49" r="4.00"/><circle cx="335.89" cy="1848.98" r="4.00"/><circle cx="336.28" cy="1829.35" r="4.00"/><circle cx="317.81" cy="1839.62" r="4.00"/><circle cx="316.10" cy="1808.29" r="4.00"/><circle cx="322.69" cy="1848.04" r="4.00"/><circle cx="340.02" cy="1850.74" r="4.00"/><circle cx="325.08" cy="1855.40" r="4.00"/><circle cx="319.29" cy="1803.43" r="4.00"/><circle cx="330.47" cy="1815.48" r="4.00"/><circle cx="338.65" cy="1843.01" r="4.00"/><circle cx="313.40" cy="1864.40" r="4.00"/><circle cx="325.00" cy="1862.30" r="4.00"/><circle cx="337.60" cy="1870.30" r="4.00"/><circle cx="320.80" cy="1874.50" r="4.00"/><circle cx="331.30" cy="1876.00" r="4.00"/><circle cx="337.60" cy="1883.30" r="4.00"/><circle cx="336.60" cy="1891.70" r="4.00"/><circle cx="324.00" cy="1893.80" r="4.00"/><circle cx="335.10" cy="1899.70" r="4.00"/><circle cx="319.70" cy="1908.10" r="4.00"/><circle cx="330.20" cy="1909.00" r="4.00"/></g>
<path d="M427.80,1636.20V1922.70H708.90 M427.80,1697.00H418.30 M427.80,1759.70H418.30 M427.80,1822.20H418.30 M427.80,1884.30H418.30 M504.10,1922.70V1932.20 M632.40,1922.70V1932.20" stroke="#000" stroke-width="1.8" fill="none"/>
<text x="507.60" y="1621.40" font-size="22.43" font-weight="bold" fill="#000" stroke="#000" stroke-width="0.25" textLength="130.54" lengthAdjust="spacingAndGlyphs" xml:space="preserve"><tspan font-style="italic">P</tspan><tspan> = 3.9e-28</tspan></text>
<path d="M504.1,1644.3 V1635.7 H632.4 V1644.3" fill="none" stroke="#000" stroke-width="1.80" />
<text x="444.16" y="1966.00" font-size="25.14" font-weight="bold" fill="#000" stroke="#000" stroke-width="0.25" textLength="129.29" lengthAdjust="spacingAndGlyphs" xml:space="preserve"><tspan>No mLOY</tspan></text>
<text x="588.66" y="1966.00" font-size="25.14" font-weight="bold" fill="#000" stroke="#000" stroke-width="0.25" textLength="83.36" lengthAdjust="spacingAndGlyphs" xml:space="preserve"><tspan>mLOY</tspan></text>
<path d="M456.20,1727.30 H552.70 V1737.00 L541.90,1741.60 L552.70,1745.70 V1757.80 H456.20 V1745.70 L467.00,1741.60 L456.20,1737.00 Z" fill="#8E99D5" stroke="#000" stroke-width="1.6" stroke-linejoin="miter"/>
<line x1="467.00" y1="1741.60" x2="541.90" y2="1741.60" stroke="#000" stroke-width="1.60" />
<line x1="504.10" y1="1697.00" x2="504.10" y2="1727.30" stroke="#000" stroke-width="1.60" />
<line x1="504.10" y1="1757.80" x2="504.10" y2="1799.70" stroke="#000" stroke-width="1.60" />
<path d="M584.30,1795.70 H681.10 V1816.00 L659.50,1825.40 L681.10,1834.90 V1852.40 H584.30 V1834.90 L605.40,1825.40 L584.30,1816.00 Z" fill="#C56F6B" stroke="#000" stroke-width="1.6" stroke-linejoin="miter"/>
<line x1="605.40" y1="1825.40" x2="659.50" y2="1825.40" stroke="#000" stroke-width="1.60" />
<line x1="632.40" y1="1736.20" x2="632.40" y2="1795.70" stroke="#000" stroke-width="1.60" />
<line x1="632.40" y1="1852.40" x2="632.40" y2="1898.40" stroke="#000" stroke-width="1.60" />
<g fill="#7380C8" stroke="#0d0d1a" stroke-width="1.9"><circle cx="516.10" cy="1660.10" r="4.00"/><circle cx="511.10" cy="1666.40" r="4.00"/><circle cx="492.60" cy="1696.20" r="4.00"/><circle cx="516.70" cy="1699.40" r="4.00"/><circle cx="504.10" cy="1703.60" r="4.00"/><circle cx="510.40" cy="1705.70" r="4.00"/><circle cx="494.70" cy="1712.00" r="4.00"/><circle cx="498.90" cy="1716.20" r="4.00"/><circle cx="511.50" cy="1713.10" r="4.00"/><circle cx="505.20" cy="1722.50" r="4.00"/><circle cx="492.60" cy="1727.80" r="4.00"/><circle cx="513.60" cy="1722.50" r="4.00"/><circle cx="498.77" cy="1726.03" r="4.00"/><circle cx="497.48" cy="1722.22" r="4.00"/><circle cx="509.82" cy="1767.16" r="4.00"/><circle cx="511.61" cy="1750.19" r="4.00"/><circle cx="514.94" cy="1749.06" r="4.00"/><circle cx="493.19" cy="1758.60" r="4.00"/><circle cx="503.30" cy="1756.00" r="4.00"/><circle cx="495.45" cy="1754.15" r="4.00"/><circle cx="494.67" cy="1763.72" r="4.00"/><circle cx="496.19" cy="1739.97" r="4.00"/><circle cx="494.42" cy="1738.01" r="4.00"/><circle cx="508.97" cy="1767.19" r="4.00"/><circle cx="506.26" cy="1723.83" r="4.00"/><circle cx="508.31" cy="1726.69" r="4.00"/><circle cx="505.16" cy="1746.44" r="4.00"/><circle cx="512.36" cy="1767.70" r="4.00"/><circle cx="497.80" cy="1762.97" r="4.00"/><circle cx="506.51" cy="1727.67" r="4.00"/><circle cx="515.79" cy="1754.08" r="4.00"/><circle cx="494.63" cy="1774.90" r="4.00"/><circle cx="510.31" cy="1746.67" r="4.00"/><circle cx="517.98" cy="1747.12" r="4.00"/><circle cx="501.41" cy="1722.80" r="4.00"/><circle cx="517.45" cy="1772.57" r="4.00"/><circle cx="496.55" cy="1752.35" r="4.00"/><circle cx="498.56" cy="1757.50" r="4.00"/><circle cx="499.27" cy="1763.79" r="4.00"/><circle cx="506.63" cy="1733.51" r="4.00"/><circle cx="503.70" cy="1768.28" r="4.00"/><circle cx="506.12" cy="1757.57" r="4.00"/><circle cx="489.18" cy="1753.46" r="4.00"/><circle cx="515.21" cy="1744.36" r="4.00"/><circle cx="512.50" cy="1752.70" r="4.00"/><circle cx="490.12" cy="1779.28" r="4.00"/><circle cx="503.67" cy="1765.69" r="4.00"/><circle cx="495.57" cy="1722.15" r="4.00"/><circle cx="502.84" cy="1751.60" r="4.00"/><circle cx="499.66" cy="1774.23" r="4.00"/><circle cx="501.34" cy="1769.26" r="4.00"/><circle cx="518.31" cy="1778.59" r="4.00"/><circle cx="513.53" cy="1731.71" r="4.00"/><circle cx="499.07" cy="1728.77" r="4.00"/><circle cx="502.01" cy="1775.14" r="4.00"/><circle cx="489.14" cy="1723.22" r="4.00"/><circle cx="514.77" cy="1781.22" r="4.00"/><circle cx="499.22" cy="1779.84" r="4.00"/><circle cx="509.57" cy="1740.31" r="4.00"/><circle cx="506.98" cy="1724.95" r="4.00"/><circle cx="494.60" cy="1731.22" r="4.00"/><circle cx="496.13" cy="1767.39" r="4.00"/><circle cx="509.07" cy="1781.34" r="4.00"/><circle cx="508.28" cy="1758.00" r="4.00"/><circle cx="517.73" cy="1736.35" r="4.00"/><circle cx="516.23" cy="1724.41" r="4.00"/><circle cx="507.07" cy="1753.98" r="4.00"/><circle cx="500.64" cy="1754.64" r="4.00"/><circle cx="499.56" cy="1731.97" r="4.00"/><circle cx="498.34" cy="1760.42" r="4.00"/><circle cx="509.79" cy="1769.75" r="4.00"/><circle cx="491.79" cy="1723.79" r="4.00"/><circle cx="505.04" cy="1772.82" r="4.00"/><circle cx="504.88" cy="1730.00" r="4.00"/><circle cx="510.24" cy="1754.97" r="4.00"/><circle cx="516.92" cy="1750.61" r="4.00"/><circle cx="515.63" cy="1722.89" r="4.00"/><circle cx="500.30" cy="1764.41" r="4.00"/><circle cx="493.34" cy="1728.13" r="4.00"/><circle cx="508.98" cy="1764.20" r="4.00"/><circle cx="491.49" cy="1753.79" r="4.00"/><circle cx="503.59" cy="1728.06" r="4.00"/><circle cx="497.84" cy="1728.47" r="4.00"/><circle cx="495.78" cy="1723.59" r="4.00"/><circle cx="491.50" cy="1784.50" r="4.00"/><circle cx="497.80" cy="1784.50" r="4.00"/><circle cx="516.70" cy="1789.80" r="4.00"/><circle cx="516.70" cy="1799.70" r="4.00"/></g>
<g fill="#B24B49" stroke="#0d0d1a" stroke-width="1.9"><circle cx="638.70" cy="1693.70" r="4.00"/><circle cx="630.20" cy="1709.90" r="4.00"/><circle cx="643.50" cy="1735.10" r="4.00"/><circle cx="625.60" cy="1743.50" r="4.00"/><circle cx="643.90" cy="1742.50" r="4.00"/><circle cx="631.70" cy="1748.80" r="4.00"/><circle cx="622.50" cy="1752.00" r="4.00"/><circle cx="640.10" cy="1750.90" r="4.00"/><circle cx="645.60" cy="1752.60" r="4.00"/><circle cx="630.20" cy="1757.60" r="4.00"/><circle cx="641.40" cy="1761.40" r="4.00"/><circle cx="634.50" cy="1766.00" r="4.00"/><circle cx="622.50" cy="1776.10" r="4.00"/><circle cx="633.80" cy="1777.20" r="4.00"/><circle cx="629.20" cy="1782.40" r="4.00"/><circle cx="642.90" cy="1786.60" r="4.00"/><circle cx="625.00" cy="1790.80" r="4.00"/><circle cx="628.10" cy="1795.00" r="4.00"/><circle cx="622.90" cy="1797.20" r="4.00"/><circle cx="630.90" cy="1801.40" r="4.00"/><circle cx="642.90" cy="1801.80" r="4.00"/><circle cx="623.90" cy="1805.60" r="4.00"/><circle cx="633.40" cy="1809.80" r="4.00"/><circle cx="621.20" cy="1812.90" r="4.00"/><circle cx="635.50" cy="1814.00" r="4.00"/><circle cx="641.80" cy="1818.20" r="4.00"/><circle cx="629.20" cy="1820.30" r="4.00"/><circle cx="620.80" cy="1824.50" r="4.00"/><circle cx="636.50" cy="1824.90" r="4.00"/><circle cx="626.00" cy="1828.70" r="4.00"/><circle cx="630.20" cy="1830.80" r="4.00"/><circle cx="641.80" cy="1830.80" r="4.00"/><circle cx="622.90" cy="1835.00" r="4.00"/><circle cx="645.60" cy="1836.00" r="4.00"/><circle cx="626.00" cy="1838.10" r="4.00"/><circle cx="635.50" cy="1838.10" r="4.00"/><circle cx="630.20" cy="1844.40" r="4.00"/><circle cx="641.40" cy="1841.30" r="4.00"/><circle cx="633.40" cy="1855.00" r="4.00"/><circle cx="645.00" cy="1852.90" r="4.00"/><circle cx="626.70" cy="1856.00" r="4.00"/><circle cx="640.80" cy="1858.10" r="4.00"/><circle cx="620.80" cy="1863.40" r="4.00"/><circle cx="642.90" cy="1861.90" r="4.00"/><circle cx="627.10" cy="1869.70" r="4.00"/><circle cx="645.00" cy="1870.70" r="4.00"/><circle cx="634.50" cy="1874.90" r="4.00"/><circle cx="631.30" cy="1878.10" r="4.00"/><circle cx="621.80" cy="1884.40" r="4.00"/><circle cx="635.50" cy="1885.40" r="4.00"/><circle cx="633.00" cy="1891.80" r="4.00"/><circle cx="643.90" cy="1893.90" r="4.00"/><circle cx="642.90" cy="1901.20" r="4.00"/><circle cx="630.20" cy="1908.60" r="4.00"/><circle cx="645.00" cy="1908.60" r="4.00"/><circle cx="640.53" cy="1805.63" r="4.00"/><circle cx="626.68" cy="1837.23" r="4.00"/><circle cx="635.08" cy="1848.34" r="4.00"/><circle cx="635.46" cy="1851.34" r="4.00"/><circle cx="639.05" cy="1844.84" r="4.00"/><circle cx="624.11" cy="1821.34" r="4.00"/><circle cx="624.58" cy="1855.66" r="4.00"/><circle cx="643.81" cy="1834.52" r="4.00"/><circle cx="627.75" cy="1821.73" r="4.00"/><circle cx="626.45" cy="1823.71" r="4.00"/><circle cx="628.56" cy="1846.49" r="4.00"/><circle cx="635.10" cy="1804.54" r="4.00"/><circle cx="625.94" cy="1816.07" r="4.00"/><circle cx="640.45" cy="1801.04" r="4.00"/><circle cx="635.20" cy="1823.42" r="4.00"/><circle cx="641.12" cy="1829.80" r="4.00"/><circle cx="635.95" cy="1804.17" r="4.00"/><circle cx="628.20" cy="1851.44" r="4.00"/><circle cx="629.40" cy="1826.89" r="4.00"/><circle cx="642.80" cy="1820.08" r="4.00"/><circle cx="638.23" cy="1814.17" r="4.00"/><circle cx="639.19" cy="1802.74" r="4.00"/><circle cx="639.37" cy="1804.99" r="4.00"/><circle cx="626.74" cy="1804.08" r="4.00"/><circle cx="628.19" cy="1816.36" r="4.00"/><circle cx="633.10" cy="1848.17" r="4.00"/><circle cx="626.02" cy="1802.84" r="4.00"/><circle cx="637.63" cy="1825.98" r="4.00"/><circle cx="632.56" cy="1839.72" r="4.00"/><circle cx="642.82" cy="1850.07" r="4.00"/><circle cx="643.81" cy="1858.87" r="4.00"/><circle cx="643.70" cy="1857.00" r="4.00"/><circle cx="637.23" cy="1844.42" r="4.00"/><circle cx="630.60" cy="1836.17" r="4.00"/></g>
<text x="285.48" y="216.80" font-size="37.68" font-weight="bold" fill="#000" stroke="#000" stroke-width="0.25" textLength="44.06" lengthAdjust="spacingAndGlyphs" xml:space="preserve"><tspan>Yp</tspan></text>
<text x="597.29" y="216.80" font-size="37.68" font-weight="bold" fill="#000" stroke="#000" stroke-width="0.25" textLength="42.99" lengthAdjust="spacingAndGlyphs" xml:space="preserve"><tspan>Yq</tspan></text>
<circle cx="528.5" cy="681.0" r="0.9" fill="#555"/>
<circle cx="862.0" cy="681.0" r="0.9" fill="#555"/>
<circle cx="528.5" cy="999.0" r="0.9" fill="#555"/>
<circle cx="864.5" cy="1000.5" r="0.9" fill="#555"/>
</svg>
</body></html>
